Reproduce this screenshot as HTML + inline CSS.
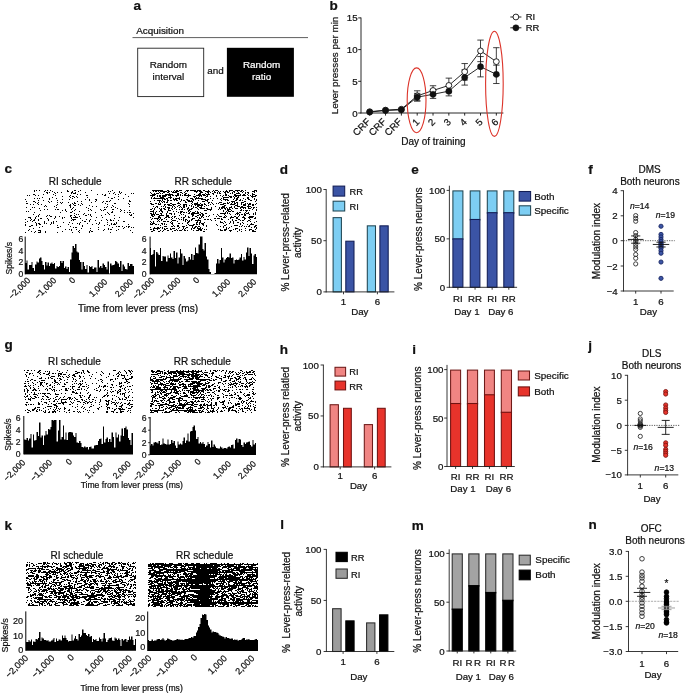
<!DOCTYPE html>
<html lang="en"><head><meta charset="utf-8"><title>Figure</title>
<style>html,body{margin:0;padding:0;background:#fff}svg{display:block;font-family:"Liberation Sans",sans-serif;will-change:transform}text{stroke:#111;stroke-width:.22px}text.w{stroke:#fff}</style></head><body>
<svg width="685" height="694" viewBox="0 0 685 694" fill="#111">
<rect width="685" height="694" fill="#fff"/>
<g id="panel-a">
<text x="133.4" y="10.2" font-size="13.5" font-weight="bold">a</text>
<text x="136.2" y="33.6" font-size="9.9">Acquisition</text>
<line x1="132.5" y1="37.6" x2="308" y2="37.6" stroke="#333" stroke-width="0.8"/>
<rect x="137.7" y="48.2" width="66" height="48.4" fill="#fff" stroke="#222" stroke-width="0.9"/>
<rect x="226.9" y="47.8" width="67" height="49" fill="#000"/>
<text x="168.4" y="67.8" font-size="9.9" text-anchor="middle">Random</text>
<text x="168.4" y="80.1" font-size="9.9" text-anchor="middle">interval</text>
<text x="215.4" y="74.4" font-size="9.9" text-anchor="middle">and</text>
<text x="261.6" y="67.8" font-size="9.9" text-anchor="middle" fill="#fff" class="w">Random</text>
<text x="261.6" y="80.1" font-size="9.9" text-anchor="middle" fill="#fff" class="w">ratio</text>
</g>
<g id="panel-b">
<text x="329.6" y="10.2" font-size="13.5" font-weight="bold">b</text>
<line x1="361" y1="17.5" x2="361" y2="113.4" stroke="#111" stroke-width="0.9"/>
<line x1="360.6" y1="113" x2="503.4" y2="113" stroke="#111" stroke-width="0.9"/>
<line x1="358.2" y1="113" x2="361" y2="113" stroke="#111" stroke-width="0.9"/>
<text x="357.6" y="116.5" font-size="9.7" text-anchor="end">0</text>
<line x1="358.2" y1="81.3" x2="361" y2="81.3" stroke="#111" stroke-width="0.9"/>
<text x="357.6" y="84.8" font-size="9.7" text-anchor="end">5</text>
<line x1="358.2" y1="49.6" x2="361" y2="49.6" stroke="#111" stroke-width="0.9"/>
<text x="357.6" y="53.1" font-size="9.7" text-anchor="end">10</text>
<line x1="358.2" y1="17.9" x2="361" y2="17.9" stroke="#111" stroke-width="0.9"/>
<text x="357.6" y="21.4" font-size="9.7" text-anchor="end">15</text>
<text x="338.2" y="65.5" font-size="9.9" text-anchor="middle" transform="rotate(-90 338.2 65.5)">Lever presses per min</text>
<line x1="369.7" y1="113" x2="369.7" y2="115.6" stroke="#111" stroke-width="0.9"/>
<text x="370.9" y="122.3" font-size="9.7" text-anchor="end" transform="rotate(-45 370.9 122.3)">CRF</text>
<line x1="385.53" y1="113" x2="385.53" y2="115.6" stroke="#111" stroke-width="0.9"/>
<text x="386.73" y="122.3" font-size="9.7" text-anchor="end" transform="rotate(-45 386.73 122.3)">CRF</text>
<line x1="401.36" y1="113" x2="401.36" y2="115.6" stroke="#111" stroke-width="0.9"/>
<text x="402.56" y="122.3" font-size="9.7" text-anchor="end" transform="rotate(-45 402.56 122.3)">CRF</text>
<line x1="417.19" y1="113" x2="417.19" y2="115.6" stroke="#111" stroke-width="0.9"/>
<text x="419.99" y="122.6" font-size="9.7" text-anchor="end" transform="rotate(-45 419.99 122.6)">1</text>
<line x1="433.02" y1="113" x2="433.02" y2="115.6" stroke="#111" stroke-width="0.9"/>
<text x="435.82" y="122.6" font-size="9.7" text-anchor="end" transform="rotate(-45 435.82 122.6)">2</text>
<line x1="448.85" y1="113" x2="448.85" y2="115.6" stroke="#111" stroke-width="0.9"/>
<text x="451.65" y="122.6" font-size="9.7" text-anchor="end" transform="rotate(-45 451.65 122.6)">3</text>
<line x1="464.68" y1="113" x2="464.68" y2="115.6" stroke="#111" stroke-width="0.9"/>
<text x="467.48" y="122.6" font-size="9.7" text-anchor="end" transform="rotate(-45 467.48 122.6)">4</text>
<line x1="480.51" y1="113" x2="480.51" y2="115.6" stroke="#111" stroke-width="0.9"/>
<text x="483.31" y="122.6" font-size="9.7" text-anchor="end" transform="rotate(-45 483.31 122.6)">5</text>
<line x1="496.34" y1="113" x2="496.34" y2="115.6" stroke="#111" stroke-width="0.9"/>
<text x="499.14" y="122.6" font-size="9.7" text-anchor="end" transform="rotate(-45 499.14 122.6)">6</text>
<text x="433.4" y="145.3" font-size="10" text-anchor="middle">Day of training</text>
<line x1="417.19" y1="90.81" x2="417.19" y2="100.95" stroke="#111" stroke-width="0.8"/>
<line x1="413.99" y1="90.81" x2="420.39" y2="90.81" stroke="#111" stroke-width="0.8"/>
<line x1="413.99" y1="100.95" x2="420.39" y2="100.95" stroke="#111" stroke-width="0.8"/>
<line x1="433.02" y1="85.74" x2="433.02" y2="95.25" stroke="#111" stroke-width="0.8"/>
<line x1="429.82" y1="85.74" x2="436.22" y2="85.74" stroke="#111" stroke-width="0.8"/>
<line x1="429.82" y1="95.25" x2="436.22" y2="95.25" stroke="#111" stroke-width="0.8"/>
<line x1="448.85" y1="78.13" x2="448.85" y2="92.71" stroke="#111" stroke-width="0.8"/>
<line x1="445.65" y1="78.13" x2="452.05" y2="78.13" stroke="#111" stroke-width="0.8"/>
<line x1="445.65" y1="92.71" x2="452.05" y2="92.71" stroke="#111" stroke-width="0.8"/>
<line x1="464.68" y1="63.55" x2="464.68" y2="80.03" stroke="#111" stroke-width="0.8"/>
<line x1="461.48" y1="63.55" x2="467.88" y2="63.55" stroke="#111" stroke-width="0.8"/>
<line x1="461.48" y1="80.03" x2="467.88" y2="80.03" stroke="#111" stroke-width="0.8"/>
<line x1="480.51" y1="40.09" x2="480.51" y2="61.65" stroke="#111" stroke-width="0.8"/>
<line x1="477.31" y1="40.09" x2="483.71" y2="40.09" stroke="#111" stroke-width="0.8"/>
<line x1="477.31" y1="61.65" x2="483.71" y2="61.65" stroke="#111" stroke-width="0.8"/>
<line x1="496.34" y1="47.7" x2="496.34" y2="75.59" stroke="#111" stroke-width="0.8"/>
<line x1="493.14" y1="47.7" x2="499.54" y2="47.7" stroke="#111" stroke-width="0.8"/>
<line x1="493.14" y1="75.59" x2="499.54" y2="75.59" stroke="#111" stroke-width="0.8"/>
<line x1="417.19" y1="93.35" x2="417.19" y2="100.95" stroke="#111" stroke-width="0.8"/>
<line x1="413.99" y1="93.35" x2="420.39" y2="93.35" stroke="#111" stroke-width="0.8"/>
<line x1="413.99" y1="100.95" x2="420.39" y2="100.95" stroke="#111" stroke-width="0.8"/>
<line x1="433.02" y1="90.18" x2="433.02" y2="98.42" stroke="#111" stroke-width="0.8"/>
<line x1="429.82" y1="90.18" x2="436.22" y2="90.18" stroke="#111" stroke-width="0.8"/>
<line x1="429.82" y1="98.42" x2="436.22" y2="98.42" stroke="#111" stroke-width="0.8"/>
<line x1="448.85" y1="86.37" x2="448.85" y2="95.88" stroke="#111" stroke-width="0.8"/>
<line x1="445.65" y1="86.37" x2="452.05" y2="86.37" stroke="#111" stroke-width="0.8"/>
<line x1="445.65" y1="95.88" x2="452.05" y2="95.88" stroke="#111" stroke-width="0.8"/>
<line x1="464.68" y1="69.89" x2="464.68" y2="85.1" stroke="#111" stroke-width="0.8"/>
<line x1="461.48" y1="69.89" x2="467.88" y2="69.89" stroke="#111" stroke-width="0.8"/>
<line x1="461.48" y1="85.1" x2="467.88" y2="85.1" stroke="#111" stroke-width="0.8"/>
<line x1="480.51" y1="56.57" x2="480.51" y2="76.86" stroke="#111" stroke-width="0.8"/>
<line x1="477.31" y1="56.57" x2="483.71" y2="56.57" stroke="#111" stroke-width="0.8"/>
<line x1="477.31" y1="76.86" x2="483.71" y2="76.86" stroke="#111" stroke-width="0.8"/>
<line x1="496.34" y1="65.13" x2="496.34" y2="83.52" stroke="#111" stroke-width="0.8"/>
<line x1="493.14" y1="65.13" x2="499.54" y2="65.13" stroke="#111" stroke-width="0.8"/>
<line x1="493.14" y1="83.52" x2="499.54" y2="83.52" stroke="#111" stroke-width="0.8"/>
<polyline fill="none" stroke="#111" stroke-width="0.9" points="369.7,111.73 385.53,110.15 401.36,109.2 417.19,95.88 433.02,90.49 448.85,85.42 464.68,71.79 480.51,50.87 496.34,61.65"/>
<polyline fill="none" stroke="#111" stroke-width="0.9" points="369.7,112.05 385.53,110.46 401.36,109.83 417.19,97.15 433.02,94.3 448.85,91.13 464.68,77.5 480.51,66.72 496.34,74.33"/>
<circle cx="369.7" cy="111.73" r="2.9" fill="#fff" stroke="#111" stroke-width="0.9"/>
<circle cx="385.53" cy="110.15" r="2.9" fill="#fff" stroke="#111" stroke-width="0.9"/>
<circle cx="401.36" cy="109.2" r="2.9" fill="#fff" stroke="#111" stroke-width="0.9"/>
<circle cx="417.19" cy="95.88" r="2.9" fill="#fff" stroke="#111" stroke-width="0.9"/>
<circle cx="433.02" cy="90.49" r="2.9" fill="#fff" stroke="#111" stroke-width="0.9"/>
<circle cx="448.85" cy="85.42" r="2.9" fill="#fff" stroke="#111" stroke-width="0.9"/>
<circle cx="464.68" cy="71.79" r="2.9" fill="#fff" stroke="#111" stroke-width="0.9"/>
<circle cx="480.51" cy="50.87" r="2.9" fill="#fff" stroke="#111" stroke-width="0.9"/>
<circle cx="496.34" cy="61.65" r="2.9" fill="#fff" stroke="#111" stroke-width="0.9"/>
<circle cx="369.7" cy="112.05" r="3.1" fill="#111" stroke="#111" stroke-width="0.4"/>
<circle cx="385.53" cy="110.46" r="3.1" fill="#111" stroke="#111" stroke-width="0.4"/>
<circle cx="401.36" cy="109.83" r="3.1" fill="#111" stroke="#111" stroke-width="0.4"/>
<circle cx="417.19" cy="97.15" r="3.1" fill="#111" stroke="#111" stroke-width="0.4"/>
<circle cx="433.02" cy="94.3" r="3.1" fill="#111" stroke="#111" stroke-width="0.4"/>
<circle cx="448.85" cy="91.13" r="3.1" fill="#111" stroke="#111" stroke-width="0.4"/>
<circle cx="464.68" cy="77.5" r="3.1" fill="#111" stroke="#111" stroke-width="0.4"/>
<circle cx="480.51" cy="66.72" r="3.1" fill="#111" stroke="#111" stroke-width="0.4"/>
<circle cx="496.34" cy="74.33" r="3.1" fill="#111" stroke="#111" stroke-width="0.4"/>
<line x1="510.3" y1="17" x2="521.4" y2="17" stroke="#111" stroke-width="0.9"/>
<circle cx="515.9" cy="17" r="2.9" fill="#fff" stroke="#111" stroke-width="0.9"/>
<text x="525.7" y="20.3" font-size="9.5">RI</text>
<line x1="510.3" y1="27.8" x2="521.4" y2="27.8" stroke="#111" stroke-width="0.9"/>
<circle cx="515.9" cy="27.8" r="3.1" fill="#111" stroke="#111" stroke-width="0.4"/>
<text x="525.7" y="31.1" font-size="9.5">RR</text>
<ellipse cx="416.6" cy="100.3" rx="9.4" ry="32.4" fill="none" stroke="#dc3329" stroke-width="1.1"/>
<ellipse cx="494.4" cy="83.8" rx="8.8" ry="52.6" fill="none" stroke="#dc3329" stroke-width="1.1"/>
</g>
<g id="panel-c">
<text x="4.6" y="173.2" font-size="13.5" font-weight="bold">c</text>
<text x="75.2" y="184.7" font-size="10" text-anchor="middle">RI schedule</text>
<path d="M34 190.5h1M36 190.5h1M39 190.5h1M45 190.5h1M47 190.5h1M50 190.5h1M67 190.5h1M74 190.5h2M80 190.5h1M91 190.5h1M112 190.5h1M34 191.5h1M44 191.5h1M52 191.5h1M67 191.5h2M72 191.5h1M78 191.5h1M108 191.5h1M110 191.5h1M119 191.5h1M46 192.5h2M49 192.5h1M54 192.5h1M57 192.5h1M61 192.5h1M71 192.5h2M75 192.5h1M85 192.5h1M114 192.5h1M119 192.5h1M121 192.5h1M47 193.5h1M55 193.5h1M71 193.5h1M73 193.5h3M109 193.5h1M113 193.5h1M120 193.5h1M131 193.5h1M133 193.5h1M33 194.5h2M43 194.5h1M53 194.5h1M77 194.5h1M80 194.5h1M97 194.5h1M102 194.5h1M105 194.5h1M115 194.5h1M118 194.5h1M125 194.5h1M27 195.5h1M29 195.5h1M35 195.5h1M38 195.5h1M55 195.5h1M70 195.5h1M86 195.5h2M104 195.5h2M62 196.5h1M69 196.5h1M72 196.5h2M76 196.5h1M118 196.5h1M128 196.5h1M42 197.5h1M52 197.5h1M70 197.5h1M74 197.5h1M77 197.5h1M87 197.5h1M108 197.5h1M114 197.5h1M34 198.5h1M37 198.5h1M39 198.5h1M49 198.5h1M56 198.5h1M72 198.5h1M111 198.5h2M123 198.5h1M25 199.5h1M49 199.5h1M62 199.5h1M69 199.5h1M85 199.5h1M89 199.5h1M95 199.5h2M118 199.5h1M38 200.5h1M43 200.5h1M57 200.5h1M89 200.5h1M96 200.5h1M110 200.5h1M129 200.5h1M26 201.5h1M33 201.5h2M48 201.5h1M51 201.5h1M77 201.5h1M81 201.5h1M95 201.5h1M103 201.5h1M106 201.5h2M109 201.5h1M129 201.5h2M35 202.5h1M38 202.5h1M49 202.5h1M57 202.5h1M60 202.5h1M62 202.5h1M68 202.5h1M74 202.5h1M91 202.5h1M102 202.5h1M26 203.5h2M37 203.5h1M61 203.5h1M72 203.5h1M74 203.5h2M81 203.5h1M105 203.5h1M114 203.5h2M128 203.5h1M30 204.5h1M33 204.5h1M38 204.5h1M41 204.5h1M57 204.5h1M70 204.5h1M73 204.5h1M78 204.5h1M82 204.5h1M107 204.5h1M129 204.5h1M45 205.5h1M56 205.5h1M69 205.5h2M74 205.5h2M80 205.5h1M89 205.5h1M112 205.5h1M44 206.5h1M46 206.5h1M54 206.5h1M70 206.5h1M92 206.5h1M96 206.5h1M107 206.5h1M113 206.5h1M129 206.5h1M26 207.5h1M32 207.5h1M34 207.5h1M56 207.5h1M70 207.5h1M73 207.5h1M86 207.5h1M104 207.5h1M106 207.5h1M111 207.5h1M115 207.5h1M39 208.5h1M72 208.5h1M88 208.5h1M117 208.5h1M30 209.5h1M44 209.5h1M47 209.5h1M55 209.5h1M57 209.5h2M65 209.5h1M71 209.5h1M75 209.5h1M90 209.5h1M100 209.5h1M104 209.5h2M112 209.5h2M120 209.5h1M40 210.5h1M62 210.5h1M65 210.5h1M74 210.5h1M88 210.5h1M91 210.5h1M101 210.5h1M103 210.5h1M121 210.5h1M124 210.5h1M129 210.5h1M26 211.5h1M28 211.5h1M66 211.5h1M72 211.5h1M79 211.5h1M112 211.5h1M120 211.5h1M34 212.5h1M60 212.5h1M70 212.5h2M95 212.5h1M107 212.5h1M111 212.5h2M124 212.5h1M127 212.5h1M129 212.5h2M74 213.5h1M84 213.5h1M108 213.5h1M133 213.5h1M33 214.5h1M39 214.5h1M76 214.5h1M78 214.5h1M83 214.5h1M88 214.5h1M90 214.5h1M105 214.5h1M109 214.5h1M129 214.5h1M131 214.5h1M38 215.5h1M47 215.5h1M49 215.5h1M70 215.5h2M74 215.5h1M85 215.5h2M90 215.5h1M101 215.5h1M114 215.5h1M130 215.5h2M36 216.5h1M38 216.5h1M46 216.5h1M50 216.5h2M55 216.5h1M59 216.5h1M70 216.5h1M75 216.5h1M79 216.5h1M91 216.5h1M28 217.5h3M35 217.5h1M55 217.5h1M62 217.5h1M64 217.5h1M71 217.5h1M73 217.5h5M96 217.5h1M102 217.5h1M119 217.5h1M133 217.5h1M30 218.5h1M35 218.5h1M40 218.5h2M47 218.5h1M54 218.5h1M62 218.5h1M71 218.5h1M80 218.5h1M114 218.5h1M25 219.5h1M31 219.5h1M34 219.5h1M38 219.5h1M48 219.5h1M72 219.5h4M86 219.5h1M90 219.5h1M106 219.5h1M110 219.5h1M30 220.5h1M33 220.5h2M38 220.5h1M48 220.5h1M71 220.5h1M73 220.5h1M82 220.5h1M89 220.5h1M95 220.5h1M101 220.5h1M107 220.5h1M110 220.5h2M113 220.5h1M118 220.5h1M27 221.5h1M32 221.5h1M44 221.5h1M53 221.5h1M56 221.5h1M84 221.5h2M89 221.5h1M123 221.5h2M25 222.5h1M35 222.5h1M44 222.5h1M51 222.5h1M53 222.5h1M63 222.5h1M69 222.5h1M80 222.5h1M99 222.5h1M107 222.5h1M116 222.5h1M36 223.5h1M38 223.5h2M44 223.5h1M46 223.5h1M51 223.5h1M53 223.5h1M72 223.5h1M77 223.5h1M79 223.5h1M87 223.5h1M96 223.5h1M99 223.5h1M111 223.5h1M114 223.5h1M116 223.5h1M25 224.5h1M36 224.5h1M39 224.5h2M50 224.5h1M68 224.5h1M79 224.5h1M92 224.5h1M98 224.5h1M107 224.5h1M111 224.5h1M113 224.5h3M128 224.5h1M25 225.5h1M31 225.5h2M36 225.5h1M57 225.5h1M82 225.5h1M104 225.5h1M109 225.5h1M29 226.5h2M42 226.5h1M60 226.5h1M70 226.5h1M82 226.5h1M116 226.5h1M118 226.5h2M122 226.5h1M126 226.5h1M128 226.5h2M39 227.5h1M57 227.5h2M73 227.5h1M75 227.5h2M98 227.5h1M112 227.5h1M124 227.5h1M128 227.5h1M131 227.5h1M133 227.5h1M33 228.5h1M81 228.5h1M90 228.5h1M108 228.5h1M123 228.5h1M29 229.5h1M65 229.5h1M69 229.5h1M71 229.5h1M76 229.5h1M98 229.5h1M104 229.5h1M108 229.5h1M110 229.5h2M118 229.5h1M28 230.5h1M38 230.5h3M71 230.5h1M79 230.5h1M90 230.5h1M103 230.5h1M116 230.5h1M130 230.5h1M31 231.5h1M35 231.5h1M40 231.5h1M45 231.5h1M62 231.5h1M78 231.5h1M89 231.5h1M91 231.5h2M25 232.5h1M34 232.5h1M38 232.5h3M45 232.5h1M57 232.5h1M72 232.5h1M79 232.5h1M89 232.5h1M110 232.5h1M132 232.5h1" stroke="#000" stroke-width="1" fill="none"/>
<path d="M25 274.3 V263 H26.5 V260.5 H27.5 V269.5 H29 V265 H30 V265 H31.5 V262 H32.5 V268 H34 V271 H35 V264.5 H36.5 V261.5 H37.5 V262.5 H39 V258.5 H40 V257.5 H41.5 V261 H42.5 V265 H44 V269.5 H45 V262 H46.5 V265.5 H47.5 V262.5 H49 V266 H50 V263.5 H51.5 V262.5 H52.5 V264 H54 V263 H55 V268.5 H56.5 V266 H57.5 V267 H59 V266 H60 V261 H61.5 V263 H62.5 V261 H64 V268 H65 V266.5 H66.5 V269 H67.5 V267 H69 V272 H70 V259.5 H71.5 V252.5 H72.5 V246 H74 V248 H75 V244 H76.5 V251.5 H77.5 V252.5 H79 V260 H80 V262 H81.5 V269.5 H82.5 V262 H84 V266 H85 V269 H86.5 V265 H87.5 V272.5 H89 V266 H90 V267 H91.5 V266 H92.5 V269 H94 V267.5 H95 V267.5 H96.5 V272 H97.5 V260 H99 V267.5 H100 V266 H101.5 V268 H102.5 V263.5 H104 V265 H105 V267 H106.5 V269.5 H107.5 V261.5 H109 V273.5 H110 V263.5 H111.5 V265.5 H112.5 V265 H114 V264.5 H115 V261 H116.5 V262 H117.5 V263.5 H119 V267 H120 V261 H121.5 V271 H122.5 V264.5 H124 V266.5 H125 V269 H126.5 V269.5 H127.5 V263 H129 V266 H130 V264 H131.5 V264 H132.5 V266 H134 V274.3Z" fill="#000"/>
<line x1="25.2" y1="236.6" x2="25.2" y2="274.3" stroke="#000" stroke-width="1"/>
<text x="23.4" y="241.9" font-size="8.6" text-anchor="end">6</text>
<text x="23.4" y="253.7" font-size="8.6" text-anchor="end">4</text>
<text x="23.4" y="265.4" font-size="8.6" text-anchor="end">2</text>
<text x="23.4" y="277" font-size="8.6" text-anchor="end">0</text>
<text x="11.6" y="258.3" font-size="8.6" text-anchor="middle" transform="rotate(-90 11.6 258.3)">Spikes/s</text>
<text x="30.8" y="280.9" font-size="8.6" text-anchor="end" transform="rotate(-45 30.8 280.9)">−2,000</text>
<text x="56.8" y="280.9" font-size="8.6" text-anchor="end" transform="rotate(-45 56.8 280.9)">−1,000</text>
<text x="107.8" y="282.3" font-size="8.6" text-anchor="end" transform="rotate(-45 107.8 282.3)">1,000</text>
<text x="133.6" y="282.3" font-size="8.6" text-anchor="end" transform="rotate(-45 133.6 282.3)">2,000</text>
<text x="76" y="280.6" font-size="8.6" text-anchor="end" transform="rotate(-45 76 280.6)">0</text>
<text x="203.1" y="184.7" font-size="10" text-anchor="middle">RR schedule</text>
<path d="M152 190.5h11M167 190.5h2M174 190.5h1M176 190.5h2M179 190.5h3M186 190.5h3M190 190.5h6M197 190.5h4M203 190.5h2M208 190.5h1M213 190.5h1M215 190.5h3M226 190.5h1M229 190.5h4M235 190.5h5M241 190.5h2M245 190.5h1M254 190.5h3M153 191.5h1M155 191.5h2M158 191.5h1M160 191.5h7M168 191.5h2M171 191.5h1M173 191.5h1M175 191.5h4M185 191.5h1M187 191.5h1M194 191.5h4M199 191.5h3M205 191.5h5M212 191.5h1M214 191.5h1M218 191.5h1M220 191.5h1M223 191.5h1M225 191.5h3M229 191.5h1M233 191.5h2M237 191.5h1M240 191.5h2M243 191.5h1M252 191.5h3M256 191.5h1M150 192.5h1M159 192.5h1M163 192.5h2M167 192.5h2M172 192.5h5M180 192.5h2M184 192.5h1M196 192.5h1M200 192.5h3M207 192.5h2M210 192.5h1M214 192.5h2M217 192.5h1M219 192.5h1M224 192.5h2M227 192.5h2M232 192.5h1M234 192.5h1M238 192.5h1M242 192.5h1M245 192.5h1M247 192.5h2M254 192.5h1M151 193.5h1M154 193.5h1M156 193.5h3M160 193.5h1M162 193.5h1M169 193.5h1M177 193.5h2M182 193.5h1M185 193.5h2M199 193.5h2M205 193.5h1M208 193.5h1M212 193.5h2M217 193.5h1M219 193.5h2M225 193.5h1M230 193.5h1M232 193.5h1M236 193.5h4M245 193.5h1M248 193.5h1M252 193.5h1M152 194.5h4M165 194.5h8M177 194.5h2M180 194.5h1M184 194.5h2M188 194.5h1M194 194.5h1M198 194.5h3M202 194.5h3M206 194.5h4M213 194.5h1M225 194.5h2M234 194.5h2M240 194.5h1M243 194.5h2M247 194.5h1M252 194.5h3M150 195.5h5M157 195.5h1M159 195.5h2M162 195.5h5M168 195.5h3M172 195.5h2M175 195.5h4M180 195.5h1M182 195.5h1M184 195.5h7M196 195.5h6M203 195.5h3M207 195.5h1M216 195.5h1M220 195.5h1M223 195.5h1M225 195.5h2M228 195.5h1M234 195.5h7M242 195.5h4M248 195.5h1M250 195.5h1M252 195.5h1M255 195.5h2M152 196.5h1M157 196.5h1M159 196.5h2M162 196.5h4M170 196.5h1M176 196.5h1M188 196.5h1M193 196.5h3M199 196.5h1M201 196.5h1M206 196.5h2M210 196.5h1M216 196.5h1M222 196.5h1M229 196.5h3M233 196.5h1M235 196.5h2M238 196.5h1M251 196.5h5M151 197.5h1M154 197.5h1M160 197.5h4M168 197.5h4M179 197.5h1M187 197.5h1M194 197.5h1M196 197.5h1M198 197.5h1M205 197.5h1M223 197.5h6M230 197.5h2M234 197.5h1M237 197.5h2M247 197.5h2M252 197.5h1M151 198.5h1M153 198.5h12M166 198.5h2M170 198.5h1M173 198.5h1M175 198.5h5M190 198.5h3M195 198.5h8M210 198.5h1M213 198.5h1M217 198.5h1M221 198.5h1M223 198.5h1M234 198.5h1M236 198.5h2M243 198.5h1M247 198.5h2M254 198.5h1M162 199.5h1M164 199.5h2M167 199.5h1M173 199.5h4M179 199.5h1M181 199.5h1M186 199.5h2M192 199.5h2M195 199.5h1M201 199.5h5M207 199.5h2M220 199.5h1M223 199.5h5M233 199.5h1M236 199.5h2M240 199.5h1M245 199.5h1M248 199.5h2M254 199.5h1M256 199.5h1M154 200.5h1M157 200.5h4M162 200.5h1M167 200.5h2M170 200.5h2M174 200.5h1M176 200.5h2M181 200.5h1M183 200.5h2M187 200.5h3M191 200.5h1M193 200.5h1M198 200.5h1M205 200.5h3M212 200.5h1M221 200.5h1M225 200.5h1M227 200.5h2M235 200.5h2M239 200.5h2M242 200.5h1M250 200.5h2M256 200.5h1M150 201.5h1M159 201.5h1M161 201.5h1M163 201.5h2M167 201.5h1M180 201.5h1M185 201.5h1M188 201.5h5M202 201.5h3M207 201.5h1M231 201.5h4M244 201.5h2M255 201.5h1M159 202.5h1M162 202.5h1M164 202.5h1M166 202.5h2M178 202.5h1M185 202.5h2M192 202.5h1M197 202.5h1M208 202.5h2M211 202.5h1M219 202.5h3M227 202.5h1M229 202.5h1M232 202.5h1M234 202.5h1M236 202.5h2M241 202.5h3M150 203.5h2M155 203.5h2M158 203.5h1M160 203.5h1M170 203.5h2M177 203.5h3M191 203.5h1M194 203.5h4M200 203.5h1M204 203.5h1M208 203.5h1M212 203.5h1M216 203.5h1M218 203.5h1M223 203.5h3M227 203.5h2M231 203.5h1M234 203.5h2M237 203.5h1M241 203.5h1M245 203.5h1M247 203.5h1M249 203.5h2M256 203.5h1M151 204.5h3M158 204.5h3M164 204.5h2M167 204.5h3M172 204.5h4M180 204.5h1M183 204.5h4M192 204.5h1M194 204.5h6M201 204.5h2M204 204.5h2M210 204.5h1M213 204.5h1M220 204.5h4M230 204.5h5M237 204.5h1M241 204.5h1M243 204.5h3M248 204.5h3M252 204.5h2M255 204.5h1M164 205.5h1M168 205.5h4M173 205.5h1M178 205.5h2M183 205.5h2M186 205.5h1M189 205.5h1M191 205.5h1M195 205.5h1M197 205.5h6M206 205.5h1M208 205.5h1M224 205.5h2M235 205.5h3M243 205.5h3M248 205.5h1M252 205.5h2M153 206.5h1M156 206.5h2M161 206.5h1M163 206.5h1M165 206.5h1M172 206.5h1M174 206.5h1M177 206.5h1M180 206.5h1M183 206.5h2M186 206.5h1M191 206.5h1M193 206.5h1M197 206.5h2M201 206.5h1M204 206.5h1M215 206.5h1M222 206.5h3M231 206.5h1M234 206.5h1M237 206.5h3M241 206.5h2M247 206.5h4M155 207.5h1M157 207.5h1M165 207.5h1M167 207.5h3M172 207.5h1M175 207.5h1M179 207.5h1M181 207.5h1M183 207.5h2M188 207.5h1M193 207.5h1M195 207.5h2M199 207.5h3M211 207.5h1M219 207.5h1M221 207.5h4M226 207.5h1M229 207.5h3M234 207.5h1M240 207.5h6M248 207.5h1M251 207.5h1M253 207.5h2M256 207.5h1M152 208.5h1M154 208.5h1M159 208.5h1M161 208.5h1M163 208.5h2M168 208.5h2M171 208.5h1M174 208.5h1M182 208.5h1M187 208.5h2M191 208.5h2M197 208.5h1M200 208.5h5M206 208.5h2M211 208.5h1M219 208.5h1M221 208.5h2M224 208.5h2M227 208.5h1M229 208.5h1M232 208.5h1M235 208.5h3M240 208.5h1M243 208.5h1M245 208.5h1M248 208.5h3M253 208.5h1M150 209.5h2M154 209.5h1M160 209.5h2M164 209.5h2M168 209.5h1M172 209.5h1M176 209.5h1M179 209.5h1M181 209.5h2M184 209.5h1M187 209.5h1M189 209.5h3M198 209.5h1M207 209.5h5M218 209.5h1M220 209.5h1M225 209.5h1M227 209.5h4M241 209.5h1M252 209.5h1M256 209.5h1M153 210.5h1M160 210.5h2M168 210.5h3M188 210.5h2M204 210.5h3M210 210.5h1M223 210.5h1M227 210.5h2M231 210.5h1M240 210.5h2M243 210.5h1M245 210.5h3M249 210.5h1M256 210.5h1M150 211.5h4M156 211.5h1M159 211.5h1M161 211.5h2M167 211.5h1M173 211.5h1M176 211.5h1M180 211.5h3M188 211.5h1M190 211.5h1M195 211.5h1M197 211.5h1M223 211.5h1M226 211.5h1M228 211.5h3M232 211.5h2M246 211.5h1M153 212.5h1M155 212.5h1M162 212.5h1M167 212.5h1M178 212.5h1M180 212.5h2M183 212.5h2M186 212.5h1M189 212.5h1M192 212.5h3M197 212.5h2M200 212.5h1M225 212.5h1M227 212.5h1M237 212.5h1M239 212.5h2M245 212.5h1M248 212.5h1M255 212.5h1M150 213.5h2M153 213.5h1M155 213.5h1M160 213.5h2M166 213.5h1M169 213.5h3M174 213.5h1M180 213.5h1M188 213.5h2M191 213.5h8M201 213.5h2M205 213.5h2M220 213.5h6M227 213.5h1M229 213.5h1M236 213.5h3M244 213.5h1M246 213.5h3M253 213.5h1M255 213.5h1M151 214.5h4M156 214.5h3M161 214.5h1M166 214.5h1M171 214.5h1M174 214.5h1M181 214.5h1M183 214.5h1M191 214.5h3M199 214.5h2M202 214.5h2M213 214.5h1M217 214.5h1M224 214.5h1M230 214.5h1M235 214.5h1M237 214.5h1M239 214.5h1M241 214.5h2M244 214.5h2M249 214.5h1M253 214.5h1M255 214.5h1M151 215.5h2M154 215.5h1M159 215.5h5M166 215.5h3M179 215.5h1M185 215.5h1M192 215.5h2M197 215.5h2M200 215.5h1M202 215.5h2M209 215.5h1M218 215.5h1M225 215.5h1M239 215.5h1M244 215.5h2M152 216.5h2M158 216.5h2M166 216.5h3M172 216.5h1M174 216.5h2M185 216.5h1M188 216.5h1M192 216.5h1M195 216.5h2M201 216.5h2M206 216.5h1M208 216.5h1M216 216.5h1M219 216.5h3M224 216.5h1M226 216.5h1M231 216.5h1M234 216.5h2M238 216.5h1M243 216.5h1M249 216.5h5M150 217.5h1M158 217.5h3M165 217.5h2M168 217.5h2M171 217.5h1M174 217.5h1M181 217.5h1M183 217.5h2M188 217.5h2M197 217.5h1M199 217.5h1M201 217.5h1M203 217.5h1M223 217.5h3M230 217.5h4M236 217.5h2M242 217.5h3M248 217.5h5M255 217.5h1M152 218.5h1M154 218.5h5M160 218.5h1M164 218.5h1M172 218.5h1M176 218.5h1M178 218.5h1M183 218.5h1M192 218.5h3M199 218.5h2M214 218.5h2M217 218.5h3M221 218.5h1M230 218.5h1M236 218.5h2M244 218.5h2M249 218.5h1M254 218.5h2M151 219.5h1M157 219.5h1M159 219.5h1M161 219.5h2M166 219.5h1M171 219.5h1M179 219.5h1M181 219.5h1M183 219.5h1M185 219.5h2M191 219.5h2M198 219.5h1M204 219.5h2M207 219.5h2M210 219.5h1M221 219.5h2M228 219.5h1M232 219.5h1M238 219.5h2M244 219.5h1M250 219.5h1M158 220.5h1M161 220.5h1M172 220.5h4M183 220.5h1M185 220.5h1M187 220.5h1M189 220.5h1M191 220.5h1M195 220.5h6M211 220.5h1M215 220.5h1M232 220.5h1M235 220.5h2M240 220.5h1M242 220.5h2M248 220.5h2M150 221.5h1M153 221.5h1M157 221.5h1M159 221.5h1M163 221.5h3M167 221.5h2M171 221.5h1M177 221.5h1M185 221.5h1M188 221.5h2M197 221.5h1M200 221.5h1M220 221.5h1M224 221.5h1M230 221.5h1M233 221.5h1M247 221.5h1M250 221.5h1M256 221.5h1M151 222.5h1M153 222.5h1M170 222.5h1M172 222.5h1M187 222.5h2M196 222.5h2M199 222.5h2M204 222.5h1M220 222.5h3M225 222.5h1M230 222.5h1M233 222.5h1M237 222.5h2M242 222.5h1M254 222.5h1M150 223.5h1M152 223.5h3M161 223.5h2M164 223.5h1M171 223.5h2M178 223.5h2M182 223.5h1M187 223.5h1M196 223.5h1M199 223.5h1M201 223.5h3M223 223.5h1M229 223.5h1M233 223.5h1M240 223.5h1M243 223.5h1M251 223.5h1M150 224.5h3M155 224.5h2M158 224.5h1M162 224.5h1M164 224.5h1M166 224.5h1M172 224.5h1M188 224.5h1M193 224.5h2M196 224.5h2M199 224.5h1M202 224.5h2M216 224.5h1M226 224.5h1M240 224.5h1M247 224.5h1M250 224.5h4M160 225.5h1M173 225.5h1M177 225.5h2M186 225.5h1M189 225.5h5M203 225.5h1M206 225.5h1M217 225.5h1M224 225.5h2M234 225.5h4M242 225.5h1M249 225.5h1M255 225.5h2M164 226.5h3M171 226.5h2M174 226.5h1M177 226.5h2M182 226.5h3M192 226.5h1M195 226.5h2M198 226.5h2M206 226.5h1M220 226.5h1M223 226.5h1M231 226.5h1M239 226.5h1M241 226.5h1M244 226.5h1M246 226.5h1M248 226.5h2M254 226.5h2M150 227.5h1M154 227.5h1M157 227.5h2M160 227.5h1M162 227.5h1M179 227.5h1M183 227.5h1M186 227.5h2M192 227.5h1M194 227.5h2M197 227.5h1M200 227.5h1M223 227.5h1M226 227.5h1M229 227.5h1M251 227.5h1M254 227.5h1M256 227.5h1M153 228.5h7M162 228.5h1M164 228.5h1M166 228.5h2M170 228.5h1M172 228.5h3M178 228.5h1M183 228.5h1M185 228.5h1M191 228.5h1M193 228.5h2M197 228.5h4M202 228.5h1M226 228.5h1M228 228.5h1M235 228.5h3M245 228.5h1M256 228.5h1M150 229.5h2M153 229.5h1M157 229.5h1M164 229.5h2M170 229.5h2M176 229.5h1M182 229.5h1M184 229.5h1M191 229.5h1M198 229.5h4M204 229.5h1M206 229.5h1M218 229.5h1M220 229.5h1M224 229.5h3M233 229.5h1M235 229.5h1M239 229.5h1M241 229.5h1M249 229.5h3M255 229.5h1M153 230.5h2M160 230.5h1M163 230.5h1M167 230.5h2M174 230.5h2M177 230.5h1M179 230.5h3M184 230.5h2M187 230.5h1M193 230.5h1M196 230.5h3M200 230.5h2M220 230.5h3M224 230.5h2M229 230.5h3M239 230.5h1M245 230.5h1M249 230.5h1M252 230.5h2M151 231.5h2M158 231.5h2M162 231.5h1M172 231.5h1M203 231.5h2M230 231.5h1M237 231.5h1M241 231.5h1M252 231.5h4" stroke="#000" stroke-width="1" fill="none"/>
<path d="M150 274.3 V248 H151 V255 H152.5 V254 H153.5 V250 H155 V266.5 H156 V252 H157.5 V253.5 H158.5 V255 H160 V248 H161 V261 H162.5 V256 H163.5 V256.5 H165 V256.5 H166 V261.5 H167.5 V255.5 H168.5 V258 H170 V253.5 H171 V257.5 H172.5 V259 H173.5 V251 H175 V258 H176 V252.5 H177.5 V263.5 H178.5 V257.5 H180 V249 H181 V253.5 H182.5 V265 H183.5 V256 H185 V258.5 H186 V261.5 H187.5 V260.5 H188.5 V257 H190 V259.5 H191 V254 H192.5 V260 H193.5 V255 H195 V247.5 H196 V253 H197.5 V253.5 H198.5 V244.5 H200 V236.5 H201 V236.5 H202.5 V249 H203.5 V250.5 H204.5 V243 H206 V256.5 H207 V259.5 H208.5 V269 H209.5 V272 H211 V274 H212 V274.5 H213.5 V274 H214.5 V273 H216 V263.5 H217 V259 H218.5 V263.5 H219.5 V260 H221 V248 H222 V257.5 H223.5 V262.5 H224.5 V259.5 H226 V258 H227 V257 H228.5 V257.5 H229.5 V253.5 H231 V258 H232 V257.5 H233.5 V263.5 H234.5 V260 H236 V259.5 H237 V260 H238.5 V259.5 H239.5 V257.5 H241 V254 H242 V260.5 H243.5 V257 H244.5 V259.5 H246 V252.5 H247 V247.5 H248.5 V256 H249.5 V248 H251 V253.5 H252 V264 H253.5 V255.5 H254.5 V254 H256 V257 H257 V274.3Z" fill="#000"/>
<line x1="150.1" y1="236.6" x2="150.1" y2="274.3" stroke="#000" stroke-width="1"/>
<text x="146.6" y="241.9" font-size="8.6" text-anchor="end">6</text>
<text x="146.6" y="253.7" font-size="8.6" text-anchor="end">4</text>
<text x="146.6" y="265.4" font-size="8.6" text-anchor="end">2</text>
<text x="146.6" y="277" font-size="8.6" text-anchor="end">0</text>
<text x="154.8" y="280.9" font-size="8.6" text-anchor="end" transform="rotate(-45 154.8 280.9)">−2,000</text>
<text x="181.1" y="280.9" font-size="8.6" text-anchor="end" transform="rotate(-45 181.1 280.9)">−1,000</text>
<text x="230.8" y="282.3" font-size="8.6" text-anchor="end" transform="rotate(-45 230.8 282.3)">1,000</text>
<text x="257" y="282.3" font-size="8.6" text-anchor="end" transform="rotate(-45 257 282.3)">2,000</text>
<text x="200" y="280.6" font-size="8.6" text-anchor="end" transform="rotate(-45 200 280.6)">0</text>
<text x="138" y="312.4" font-size="10.1" text-anchor="middle">Time from lever press (ms)</text>
</g>
<g id="panel-g">
<text x="4.6" y="349.3" font-size="13.5" font-weight="bold">g</text>
<text x="74.5" y="364.6" font-size="10" text-anchor="middle">RI schedule</text>
<path d="M24 370.5h1M27 370.5h2M31 370.5h1M34 370.5h1M39 370.5h2M57 370.5h1M67 370.5h1M82 370.5h2M87 370.5h1M113 370.5h3M124 370.5h1M128 370.5h2M131 370.5h1M38 371.5h2M45 371.5h1M47 371.5h1M49 371.5h1M59 371.5h1M75 371.5h2M83 371.5h1M87 371.5h2M101 371.5h1M119 371.5h1M125 371.5h1M129 371.5h2M132 371.5h1M26 372.5h2M37 372.5h2M40 372.5h1M49 372.5h1M62 372.5h1M66 372.5h1M77 372.5h3M81 372.5h1M83 372.5h1M88 372.5h2M96 372.5h1M102 372.5h1M118 372.5h1M120 372.5h1M126 372.5h1M130 372.5h1M29 373.5h2M32 373.5h1M39 373.5h1M43 373.5h2M48 373.5h2M52 373.5h2M55 373.5h1M58 373.5h4M75 373.5h3M81 373.5h1M84 373.5h1M103 373.5h1M109 373.5h1M117 373.5h2M126 373.5h1M131 373.5h1M25 374.5h1M29 374.5h1M40 374.5h1M46 374.5h3M58 374.5h1M60 374.5h2M63 374.5h3M69 374.5h1M73 374.5h2M92 374.5h1M100 374.5h1M109 374.5h1M116 374.5h1M119 374.5h1M121 374.5h1M130 374.5h1M26 375.5h1M33 375.5h1M49 375.5h1M58 375.5h2M68 375.5h1M72 375.5h3M79 375.5h1M89 375.5h1M101 375.5h1M113 375.5h1M118 375.5h1M121 375.5h4M127 375.5h1M26 376.5h1M37 376.5h1M51 376.5h4M58 376.5h1M60 376.5h1M62 376.5h1M66 376.5h1M69 376.5h1M74 376.5h2M79 376.5h2M83 376.5h1M91 376.5h1M108 376.5h1M117 376.5h2M124 376.5h1M131 376.5h2M28 377.5h1M41 377.5h1M48 377.5h1M50 377.5h1M63 377.5h1M67 377.5h2M72 377.5h1M80 377.5h1M106 377.5h1M124 377.5h1M131 377.5h2M39 378.5h3M45 378.5h1M48 378.5h1M51 378.5h2M57 378.5h1M59 378.5h2M73 378.5h1M79 378.5h1M84 378.5h1M90 378.5h1M95 378.5h1M115 378.5h1M117 378.5h1M122 378.5h2M125 378.5h1M129 378.5h3M27 379.5h1M31 379.5h2M54 379.5h1M60 379.5h2M67 379.5h1M73 379.5h1M75 379.5h1M100 379.5h2M110 379.5h3M115 379.5h1M125 379.5h4M30 380.5h1M34 380.5h2M41 380.5h4M54 380.5h2M59 380.5h1M64 380.5h1M76 380.5h1M82 380.5h1M98 380.5h1M102 380.5h1M110 380.5h1M126 380.5h1M25 381.5h1M27 381.5h2M39 381.5h1M54 381.5h2M72 381.5h1M75 381.5h1M80 381.5h1M82 381.5h1M101 381.5h1M113 381.5h1M126 381.5h2M32 382.5h1M37 382.5h1M40 382.5h3M44 382.5h1M52 382.5h1M55 382.5h3M60 382.5h1M66 382.5h2M85 382.5h1M102 382.5h1M119 382.5h1M121 382.5h1M124 382.5h2M128 382.5h2M24 383.5h2M28 383.5h1M33 383.5h1M40 383.5h2M46 383.5h2M54 383.5h1M58 383.5h1M64 383.5h1M74 383.5h1M76 383.5h1M79 383.5h2M82 383.5h1M92 383.5h1M96 383.5h1M107 383.5h1M119 383.5h3M127 383.5h1M35 384.5h1M40 384.5h2M46 384.5h1M50 384.5h1M57 384.5h1M59 384.5h1M64 384.5h2M72 384.5h1M78 384.5h1M80 384.5h2M86 384.5h1M111 384.5h2M119 384.5h1M25 385.5h1M28 385.5h1M30 385.5h1M33 385.5h1M40 385.5h1M42 385.5h1M49 385.5h2M54 385.5h1M80 385.5h1M88 385.5h1M99 385.5h1M104 385.5h2M112 385.5h1M116 385.5h1M121 385.5h1M123 385.5h1M132 385.5h1M24 386.5h3M29 386.5h1M38 386.5h1M43 386.5h1M47 386.5h1M52 386.5h1M62 386.5h3M70 386.5h1M72 386.5h3M79 386.5h1M82 386.5h3M86 386.5h1M99 386.5h1M101 386.5h1M103 386.5h3M107 386.5h1M119 386.5h3M127 386.5h1M129 386.5h2M30 387.5h1M33 387.5h1M52 387.5h1M54 387.5h1M72 387.5h1M78 387.5h2M88 387.5h1M98 387.5h1M103 387.5h1M110 387.5h2M113 387.5h1M120 387.5h1M125 387.5h1M26 388.5h1M30 388.5h1M34 388.5h1M38 388.5h1M46 388.5h1M49 388.5h2M65 388.5h2M68 388.5h1M72 388.5h1M81 388.5h1M87 388.5h1M96 388.5h1M122 388.5h1M124 388.5h1M24 389.5h1M27 389.5h1M33 389.5h3M45 389.5h1M47 389.5h1M51 389.5h1M53 389.5h2M61 389.5h1M65 389.5h2M70 389.5h1M73 389.5h1M77 389.5h3M81 389.5h1M84 389.5h1M94 389.5h1M100 389.5h1M105 389.5h1M111 389.5h1M119 389.5h2M124 389.5h1M128 389.5h1M131 389.5h1M24 390.5h1M27 390.5h2M32 390.5h2M35 390.5h2M39 390.5h1M47 390.5h1M52 390.5h1M54 390.5h1M56 390.5h1M59 390.5h1M65 390.5h3M75 390.5h1M86 390.5h1M96 390.5h2M100 390.5h1M104 390.5h1M107 390.5h1M115 390.5h1M118 390.5h1M120 390.5h1M125 390.5h1M24 391.5h1M27 391.5h1M54 391.5h1M72 391.5h2M99 391.5h1M110 391.5h1M112 391.5h2M117 391.5h1M119 391.5h2M129 391.5h1M27 392.5h1M31 392.5h1M34 392.5h1M72 392.5h3M76 392.5h1M80 392.5h1M88 392.5h1M107 392.5h1M111 392.5h1M117 392.5h2M125 392.5h1M128 392.5h1M132 392.5h1M25 393.5h1M34 393.5h1M38 393.5h1M40 393.5h1M42 393.5h4M47 393.5h3M55 393.5h1M61 393.5h1M65 393.5h1M75 393.5h3M80 393.5h1M87 393.5h1M107 393.5h1M117 393.5h1M120 393.5h1M122 393.5h3M25 394.5h1M29 394.5h1M33 394.5h4M44 394.5h1M50 394.5h1M55 394.5h4M71 394.5h1M90 394.5h1M106 394.5h1M120 394.5h1M122 394.5h1M124 394.5h1M27 395.5h1M37 395.5h1M45 395.5h1M79 395.5h2M82 395.5h1M89 395.5h2M104 395.5h2M107 395.5h2M112 395.5h1M114 395.5h1M124 395.5h1M129 395.5h1M24 396.5h1M26 396.5h2M30 396.5h1M34 396.5h2M42 396.5h2M46 396.5h2M56 396.5h2M64 396.5h1M80 396.5h1M84 396.5h1M89 396.5h1M103 396.5h2M107 396.5h1M116 396.5h1M124 396.5h1M128 396.5h1M25 397.5h1M31 397.5h1M35 397.5h2M38 397.5h1M47 397.5h2M55 397.5h1M60 397.5h1M63 397.5h1M68 397.5h3M74 397.5h1M80 397.5h2M88 397.5h2M94 397.5h1M96 397.5h1M102 397.5h1M118 397.5h1M125 397.5h2M128 397.5h1M132 397.5h1M28 398.5h1M30 398.5h1M32 398.5h3M42 398.5h1M50 398.5h1M53 398.5h1M59 398.5h1M67 398.5h1M69 398.5h2M72 398.5h1M75 398.5h1M88 398.5h1M112 398.5h1M119 398.5h1M122 398.5h1M126 398.5h1M25 399.5h1M28 399.5h3M41 399.5h1M43 399.5h1M46 399.5h1M48 399.5h2M55 399.5h2M58 399.5h1M61 399.5h6M69 399.5h1M71 399.5h1M76 399.5h2M81 399.5h2M86 399.5h1M89 399.5h1M92 399.5h2M100 399.5h1M112 399.5h1M119 399.5h2M122 399.5h1M124 399.5h2M30 400.5h1M54 400.5h1M61 400.5h1M74 400.5h1M82 400.5h1M84 400.5h1M95 400.5h1M100 400.5h1M105 400.5h2M108 400.5h2M115 400.5h1M127 400.5h1M129 400.5h2M132 400.5h1M41 401.5h1M49 401.5h1M53 401.5h2M57 401.5h1M61 401.5h1M65 401.5h1M70 401.5h1M77 401.5h3M85 401.5h2M89 401.5h1M92 401.5h1M100 401.5h1M106 401.5h3M111 401.5h1M26 402.5h2M38 402.5h1M44 402.5h3M61 402.5h6M71 402.5h1M73 402.5h1M80 402.5h1M83 402.5h2M87 402.5h2M90 402.5h2M95 402.5h1M99 402.5h1M108 402.5h1M112 402.5h3M116 402.5h1M118 402.5h1M121 402.5h1M129 402.5h1M38 403.5h2M46 403.5h1M51 403.5h1M56 403.5h1M58 403.5h3M62 403.5h2M72 403.5h1M85 403.5h1M87 403.5h1M106 403.5h1M108 403.5h1M111 403.5h1M115 403.5h1M117 403.5h1M120 403.5h1M124 403.5h2M128 403.5h2M25 404.5h2M28 404.5h1M30 404.5h2M33 404.5h1M38 404.5h2M42 404.5h1M48 404.5h1M53 404.5h3M63 404.5h1M69 404.5h2M77 404.5h1M83 404.5h1M91 404.5h1M99 404.5h1M106 404.5h3M114 404.5h2M122 404.5h1M127 404.5h2M130 404.5h3M26 405.5h1M54 405.5h3M93 405.5h1M107 405.5h1M116 405.5h1M121 405.5h2M129 405.5h1M47 406.5h5M56 406.5h2M72 406.5h1M77 406.5h1M82 406.5h1M90 406.5h2M101 406.5h1M106 406.5h1M116 406.5h1M119 406.5h3M131 406.5h2M35 407.5h1M37 407.5h3M45 407.5h1M54 407.5h1M56 407.5h1M64 407.5h1M75 407.5h1M81 407.5h1M84 407.5h1M89 407.5h1M99 407.5h1M107 407.5h3M121 407.5h1M126 407.5h1M131 407.5h1M34 408.5h2M43 408.5h1M50 408.5h1M56 408.5h1M58 408.5h1M60 408.5h1M64 408.5h2M83 408.5h1M97 408.5h2M107 408.5h1M109 408.5h1M112 408.5h1M116 408.5h1M118 408.5h3M122 408.5h1M128 408.5h3M27 409.5h1M32 409.5h3M37 409.5h1M39 409.5h1M48 409.5h1M53 409.5h1M55 409.5h1M59 409.5h1M64 409.5h1M69 409.5h1M77 409.5h1M85 409.5h1M98 409.5h1M107 409.5h1M114 409.5h2M119 409.5h6M25 410.5h1M28 410.5h2M32 410.5h2M36 410.5h1M39 410.5h1M41 410.5h1M45 410.5h1M54 410.5h1M57 410.5h1M68 410.5h2M87 410.5h1M89 410.5h1M114 410.5h1M120 410.5h1M128 410.5h1M130 410.5h1M30 411.5h1M36 411.5h2M43 411.5h1M45 411.5h1M49 411.5h1M52 411.5h4M59 411.5h1M64 411.5h1M73 411.5h2M77 411.5h1M79 411.5h1M83 411.5h1M106 411.5h2M111 411.5h3M120 411.5h4M127 411.5h1M27 412.5h2M44 412.5h2M48 412.5h2M52 412.5h2M55 412.5h1M66 412.5h1M69 412.5h1M78 412.5h1M80 412.5h1M88 412.5h1M93 412.5h1M106 412.5h2M113 412.5h1M116 412.5h2M120 412.5h2M130 412.5h1" stroke="#000" stroke-width="1" fill="none"/>
<path d="M24 454.4 V439.5 H25.5 V440 H26.5 V438 H28 V440.5 H29 V438.5 H30.5 V434 H31.5 V447.5 H33 V434.5 H34 V440.5 H35.5 V440 H36.5 V432 H38 V436 H39 V422.5 H40.5 V437.5 H41.5 V435.5 H43 V445 H44 V435.5 H45.5 V431 H46.5 V434.5 H48 V429 H49 V429.5 H50.5 V427 H51.5 V420 H53 V420.5 H54 V420 H55.5 V420 H56.5 V441.5 H58 V430.5 H59 V420 H60.5 V439.5 H61.5 V437 H63 V425.5 H64 V439.5 H65.5 V432.5 H66.5 V440 H68 V432.5 H69 V432 H70.5 V432 H71.5 V432.5 H73 V435.5 H74 V437 H75.5 V433 H76.5 V442.5 H78 V443 H79 V441 H80.5 V443 H81.5 V447 H83 V447.5 H84 V446.5 H85.5 V447.5 H86.5 V447 H88 V449.5 H89 V447 H90.5 V446.5 H91.5 V448.5 H93 V448.5 H94 V445.5 H95.5 V445 H96.5 V445 H98 V441 H99 V439 H100.5 V438.5 H101.5 V444 H103 V426.5 H104 V442.5 H105.5 V439 H106.5 V437.5 H108 V442 H109 V439 H110.5 V442 H111.5 V432.5 H113 V437 H114 V447.5 H115.5 V432.5 H116.5 V437.5 H118 V434.5 H119 V441.5 H120.5 V435.5 H121.5 V428.5 H123 V436 H124 V428 H125.5 V426.5 H126.5 V429.5 H128 V438 H129 V440 H130.5 V445 H131.5 V433 H133 V454.4Z" fill="#000"/>
<line x1="23.8" y1="416" x2="23.8" y2="454.4" stroke="#000" stroke-width="1"/>
<text x="20.6" y="420.9" font-size="8.6" text-anchor="end">6</text>
<text x="20.6" y="433" font-size="8.6" text-anchor="end">4</text>
<text x="20.6" y="445.4" font-size="8.6" text-anchor="end">2</text>
<text x="20.6" y="457.3" font-size="8.6" text-anchor="end">0</text>
<text x="11.4" y="434.6" font-size="8.6" text-anchor="middle" transform="rotate(-90 11.4 434.6)">Spikes/s</text>
<text x="25.8" y="463.1" font-size="8.6" text-anchor="end" transform="rotate(-45 25.8 463.1)">−2,000</text>
<text x="52.6" y="463.1" font-size="8.6" text-anchor="end" transform="rotate(-45 52.6 463.1)">−1,000</text>
<text x="103.4" y="464.4" font-size="8.6" text-anchor="end" transform="rotate(-45 103.4 464.4)">1,000</text>
<text x="131.4" y="464.4" font-size="8.6" text-anchor="end" transform="rotate(-45 131.4 464.4)">2,000</text>
<text x="72.6" y="462.2" font-size="8.6" text-anchor="end" transform="rotate(-45 72.6 462.2)">0</text>
<text x="202.3" y="364.6" font-size="10" text-anchor="middle">RR schedule</text>
<path d="M151 370.5h2M157 370.5h3M164 370.5h1M168 370.5h1M176 370.5h2M180 370.5h1M183 370.5h1M188 370.5h1M192 370.5h2M195 370.5h1M198 370.5h1M201 370.5h1M205 370.5h1M210 370.5h1M213 370.5h3M217 370.5h1M219 370.5h1M222 370.5h2M226 370.5h1M240 370.5h2M251 370.5h2M151 371.5h4M156 371.5h7M167 371.5h2M170 371.5h32M210 371.5h1M215 371.5h2M221 371.5h1M226 371.5h1M229 371.5h2M232 371.5h2M242 371.5h1M246 371.5h1M249 371.5h2M253 371.5h2M152 372.5h2M155 372.5h2M160 372.5h1M162 372.5h1M164 372.5h2M168 372.5h8M177 372.5h7M186 372.5h3M191 372.5h3M196 372.5h3M202 372.5h1M204 372.5h4M212 372.5h2M225 372.5h1M229 372.5h1M231 372.5h2M235 372.5h1M238 372.5h1M240 372.5h1M244 372.5h1M246 372.5h5M252 372.5h2M157 373.5h4M162 373.5h1M164 373.5h3M168 373.5h4M173 373.5h4M178 373.5h7M189 373.5h1M192 373.5h5M203 373.5h1M209 373.5h1M211 373.5h3M225 373.5h1M228 373.5h1M230 373.5h1M236 373.5h1M239 373.5h1M242 373.5h2M247 373.5h1M254 373.5h1M151 374.5h7M164 374.5h1M167 374.5h1M171 374.5h1M176 374.5h1M179 374.5h15M195 374.5h5M201 374.5h2M204 374.5h3M212 374.5h1M233 374.5h1M236 374.5h3M245 374.5h2M248 374.5h5M254 374.5h1M158 375.5h1M160 375.5h1M169 375.5h1M173 375.5h4M178 375.5h2M182 375.5h2M187 375.5h3M191 375.5h8M200 375.5h1M205 375.5h3M212 375.5h1M219 375.5h1M224 375.5h2M229 375.5h1M232 375.5h1M240 375.5h1M242 375.5h1M244 375.5h1M255 375.5h1M151 376.5h1M153 376.5h2M161 376.5h4M166 376.5h1M170 376.5h1M173 376.5h5M180 376.5h7M188 376.5h1M191 376.5h7M199 376.5h4M207 376.5h1M211 376.5h1M215 376.5h2M221 376.5h1M225 376.5h1M227 376.5h3M231 376.5h1M237 376.5h3M150 377.5h1M155 377.5h1M159 377.5h3M166 377.5h8M179 377.5h1M183 377.5h1M185 377.5h1M187 377.5h3M192 377.5h2M195 377.5h5M204 377.5h1M208 377.5h2M216 377.5h3M223 377.5h3M228 377.5h1M234 377.5h2M239 377.5h2M244 377.5h2M252 377.5h1M150 378.5h1M153 378.5h3M163 378.5h1M165 378.5h2M170 378.5h1M173 378.5h1M178 378.5h1M180 378.5h2M189 378.5h5M195 378.5h4M211 378.5h1M219 378.5h3M228 378.5h1M230 378.5h3M235 378.5h2M238 378.5h2M243 378.5h1M245 378.5h1M251 378.5h1M253 378.5h1M150 379.5h3M156 379.5h10M170 379.5h11M184 379.5h9M196 379.5h14M213 379.5h1M215 379.5h2M221 379.5h1M230 379.5h1M236 379.5h3M240 379.5h1M245 379.5h2M249 379.5h3M254 379.5h1M150 380.5h4M155 380.5h4M160 380.5h3M169 380.5h10M186 380.5h2M200 380.5h6M209 380.5h3M213 380.5h2M221 380.5h1M225 380.5h2M229 380.5h2M234 380.5h1M236 380.5h1M246 380.5h1M255 380.5h1M152 381.5h8M163 381.5h1M166 381.5h1M168 381.5h2M172 381.5h1M174 381.5h4M179 381.5h1M181 381.5h2M185 381.5h5M191 381.5h6M198 381.5h3M207 381.5h1M223 381.5h3M232 381.5h3M238 381.5h1M240 381.5h1M246 381.5h1M252 381.5h1M150 382.5h1M154 382.5h1M157 382.5h1M160 382.5h1M164 382.5h1M169 382.5h1M171 382.5h1M179 382.5h2M192 382.5h8M205 382.5h1M208 382.5h2M218 382.5h3M230 382.5h1M235 382.5h1M239 382.5h2M247 382.5h1M249 382.5h3M253 382.5h2M151 383.5h2M154 383.5h4M160 383.5h3M166 383.5h3M170 383.5h4M175 383.5h1M178 383.5h1M182 383.5h2M190 383.5h5M196 383.5h7M205 383.5h4M214 383.5h1M218 383.5h1M222 383.5h1M225 383.5h1M228 383.5h1M231 383.5h1M233 383.5h5M241 383.5h3M246 383.5h1M248 383.5h2M252 383.5h1M151 384.5h1M158 384.5h8M170 384.5h6M179 384.5h7M188 384.5h5M197 384.5h5M203 384.5h3M212 384.5h2M223 384.5h1M229 384.5h5M236 384.5h1M239 384.5h1M245 384.5h1M250 384.5h3M153 385.5h1M155 385.5h1M158 385.5h1M161 385.5h1M163 385.5h1M165 385.5h5M172 385.5h1M179 385.5h2M183 385.5h1M185 385.5h1M188 385.5h1M190 385.5h1M193 385.5h7M202 385.5h3M206 385.5h1M208 385.5h2M211 385.5h2M217 385.5h1M228 385.5h1M230 385.5h1M234 385.5h2M241 385.5h2M246 385.5h1M249 385.5h2M151 386.5h1M153 386.5h2M156 386.5h3M164 386.5h2M170 386.5h2M173 386.5h5M182 386.5h5M188 386.5h13M206 386.5h1M208 386.5h3M214 386.5h2M219 386.5h1M224 386.5h1M232 386.5h1M235 386.5h1M238 386.5h1M240 386.5h1M242 386.5h1M244 386.5h4M249 386.5h1M150 387.5h1M152 387.5h3M156 387.5h5M163 387.5h5M170 387.5h1M173 387.5h3M177 387.5h4M184 387.5h3M193 387.5h5M205 387.5h2M208 387.5h2M218 387.5h2M228 387.5h1M230 387.5h1M232 387.5h1M236 387.5h1M245 387.5h1M247 387.5h1M253 387.5h1M155 388.5h6M164 388.5h1M167 388.5h1M169 388.5h1M172 388.5h4M178 388.5h1M183 388.5h5M190 388.5h1M192 388.5h4M197 388.5h1M201 388.5h5M213 388.5h3M219 388.5h1M150 389.5h27M182 389.5h1M190 389.5h1M193 389.5h6M202 389.5h3M206 389.5h2M209 389.5h2M213 389.5h1M220 389.5h1M222 389.5h1M224 389.5h3M228 389.5h1M236 389.5h1M239 389.5h2M242 389.5h1M246 389.5h2M252 389.5h2M151 390.5h2M160 390.5h3M165 390.5h2M171 390.5h1M174 390.5h3M179 390.5h1M182 390.5h1M184 390.5h1M186 390.5h4M193 390.5h11M205 390.5h1M207 390.5h2M210 390.5h2M216 390.5h1M218 390.5h2M223 390.5h2M228 390.5h2M232 390.5h1M152 391.5h1M157 391.5h1M159 391.5h1M161 391.5h1M163 391.5h2M166 391.5h1M171 391.5h1M174 391.5h1M176 391.5h3M180 391.5h1M188 391.5h1M190 391.5h4M196 391.5h1M198 391.5h2M201 391.5h3M214 391.5h1M218 391.5h2M225 391.5h1M227 391.5h2M240 391.5h1M252 391.5h1M151 392.5h2M155 392.5h1M157 392.5h2M160 392.5h1M162 392.5h4M170 392.5h2M173 392.5h5M183 392.5h2M188 392.5h1M190 392.5h9M200 392.5h1M203 392.5h1M207 392.5h3M212 392.5h2M234 392.5h1M237 392.5h1M240 392.5h2M249 392.5h1M253 392.5h1M155 393.5h1M160 393.5h2M166 393.5h5M175 393.5h4M180 393.5h1M183 393.5h3M190 393.5h1M192 393.5h3M197 393.5h1M200 393.5h1M205 393.5h1M214 393.5h1M222 393.5h1M229 393.5h1M235 393.5h1M244 393.5h1M252 393.5h2M255 393.5h1M154 394.5h2M157 394.5h2M161 394.5h1M164 394.5h3M168 394.5h1M178 394.5h1M186 394.5h1M190 394.5h2M196 394.5h1M199 394.5h1M201 394.5h3M210 394.5h1M215 394.5h1M223 394.5h1M231 394.5h1M234 394.5h2M243 394.5h1M247 394.5h3M253 394.5h2M152 395.5h2M155 395.5h2M159 395.5h1M164 395.5h4M171 395.5h2M176 395.5h1M180 395.5h1M184 395.5h4M191 395.5h5M198 395.5h1M201 395.5h1M204 395.5h1M206 395.5h1M208 395.5h2M211 395.5h1M217 395.5h2M225 395.5h3M229 395.5h4M237 395.5h2M244 395.5h1M246 395.5h4M151 396.5h1M153 396.5h3M159 396.5h1M162 396.5h2M166 396.5h1M173 396.5h3M181 396.5h7M193 396.5h1M200 396.5h1M203 396.5h1M211 396.5h1M213 396.5h1M223 396.5h1M238 396.5h1M245 396.5h1M252 396.5h1M152 397.5h3M159 397.5h3M164 397.5h1M168 397.5h1M170 397.5h5M179 397.5h2M188 397.5h2M191 397.5h1M193 397.5h12M207 397.5h1M217 397.5h3M223 397.5h1M226 397.5h1M231 397.5h2M234 397.5h1M239 397.5h2M248 397.5h1M250 397.5h1M152 398.5h1M155 398.5h1M157 398.5h1M162 398.5h4M169 398.5h4M176 398.5h7M195 398.5h3M199 398.5h1M203 398.5h1M210 398.5h1M212 398.5h2M217 398.5h2M229 398.5h1M236 398.5h1M238 398.5h4M249 398.5h2M253 398.5h1M152 399.5h1M163 399.5h1M168 399.5h2M172 399.5h3M178 399.5h2M182 399.5h1M192 399.5h2M201 399.5h4M208 399.5h1M211 399.5h1M217 399.5h1M239 399.5h2M248 399.5h1M152 400.5h1M154 400.5h3M160 400.5h3M164 400.5h1M167 400.5h3M178 400.5h4M183 400.5h4M195 400.5h1M198 400.5h1M205 400.5h1M211 400.5h1M224 400.5h1M229 400.5h1M242 400.5h1M246 400.5h2M251 400.5h1M151 401.5h2M154 401.5h1M156 401.5h3M161 401.5h1M166 401.5h1M169 401.5h2M173 401.5h2M178 401.5h2M186 401.5h1M190 401.5h3M194 401.5h2M197 401.5h3M201 401.5h3M207 401.5h1M209 401.5h1M219 401.5h1M222 401.5h3M238 401.5h1M241 401.5h1M243 401.5h2M250 401.5h4M255 401.5h1M153 402.5h1M162 402.5h2M169 402.5h6M179 402.5h1M185 402.5h1M187 402.5h3M191 402.5h3M196 402.5h1M208 402.5h1M211 402.5h1M215 402.5h2M220 402.5h4M228 402.5h1M230 402.5h1M241 402.5h1M243 402.5h1M246 402.5h1M249 402.5h1M255 402.5h1M150 403.5h3M157 403.5h3M165 403.5h2M169 403.5h1M177 403.5h1M179 403.5h3M184 403.5h1M186 403.5h2M192 403.5h2M204 403.5h1M211 403.5h1M215 403.5h2M223 403.5h1M228 403.5h1M231 403.5h1M235 403.5h1M237 403.5h3M242 403.5h1M246 403.5h1M248 403.5h1M250 403.5h1M151 404.5h3M160 404.5h9M173 404.5h2M179 404.5h14M194 404.5h4M200 404.5h2M203 404.5h2M206 404.5h2M210 404.5h2M215 404.5h2M222 404.5h2M235 404.5h5M247 404.5h1M253 404.5h1M150 405.5h2M155 405.5h2M158 405.5h5M168 405.5h6M175 405.5h2M178 405.5h8M191 405.5h3M199 405.5h3M203 405.5h3M207 405.5h5M213 405.5h2M216 405.5h1M224 405.5h1M233 405.5h1M235 405.5h2M242 405.5h1M248 405.5h1M250 405.5h1M255 405.5h1M150 406.5h2M159 406.5h1M163 406.5h1M166 406.5h1M171 406.5h5M177 406.5h1M182 406.5h3M190 406.5h1M194 406.5h3M200 406.5h1M202 406.5h1M207 406.5h1M211 406.5h1M225 406.5h1M227 406.5h1M232 406.5h2M238 406.5h2M245 406.5h1M248 406.5h1M250 406.5h1M253 406.5h1M159 407.5h1M161 407.5h2M167 407.5h1M169 407.5h3M175 407.5h6M182 407.5h2M188 407.5h5M200 407.5h4M207 407.5h1M211 407.5h1M214 407.5h1M218 407.5h1M222 407.5h4M229 407.5h5M244 407.5h1M247 407.5h1M254 407.5h2M152 408.5h1M155 408.5h2M159 408.5h1M165 408.5h2M168 408.5h2M173 408.5h2M176 408.5h1M178 408.5h6M186 408.5h3M190 408.5h1M192 408.5h1M198 408.5h4M204 408.5h1M207 408.5h2M211 408.5h3M218 408.5h1M223 408.5h1M226 408.5h1M228 408.5h3M236 408.5h1M239 408.5h1M241 408.5h2M244 408.5h6M254 408.5h1M150 409.5h1M158 409.5h1M163 409.5h1M165 409.5h1M170 409.5h1M172 409.5h2M176 409.5h2M187 409.5h1M189 409.5h4M195 409.5h1M203 409.5h1M206 409.5h1M213 409.5h1M217 409.5h1M228 409.5h2M232 409.5h1M240 409.5h1M242 409.5h1M249 409.5h1M251 409.5h1M254 409.5h1M150 410.5h14M171 410.5h26M198 410.5h3M202 410.5h1M207 410.5h1M210 410.5h1M212 410.5h2M216 410.5h1M221 410.5h1M224 410.5h1M228 410.5h2M231 410.5h5M238 410.5h1M242 410.5h1M247 410.5h1M250 410.5h1M254 410.5h2M151 411.5h1M154 411.5h4M165 411.5h2M169 411.5h3M178 411.5h1M184 411.5h3M188 411.5h7M199 411.5h1M201 411.5h3M208 411.5h1M210 411.5h5M217 411.5h1M220 411.5h3M228 411.5h1M235 411.5h2M242 411.5h2M150 412.5h4M157 412.5h1M162 412.5h1M164 412.5h6M175 412.5h2M179 412.5h1M187 412.5h2M190 412.5h1M192 412.5h6M199 412.5h3M205 412.5h1M207 412.5h3M212 412.5h1M217 412.5h1M236 412.5h1M238 412.5h1M245 412.5h1M251 412.5h1" stroke="#000" stroke-width="1" fill="none"/>
<path d="M150 455 V445.5 H151 V444 H152.5 V445.5 H153.5 V442.5 H155 V442 H156 V442.5 H157.5 V443.5 H158.5 V441 H160 V445 H161 V444.5 H162.5 V438.5 H163.5 V443.5 H165 V444 H166 V444.5 H167.5 V439.5 H168.5 V444.5 H170 V444 H171 V440 H172.5 V443 H173.5 V441 H175 V445.5 H176 V448 H177.5 V441.5 H178.5 V444.5 H180 V443.5 H181 V444.5 H182.5 V441 H183.5 V437.5 H185 V443 H186 V440.5 H187.5 V433.5 H188.5 V441.5 H190 V431.5 H191 V431 H192.5 V427 H193.5 V425.5 H195 V430.5 H196 V439 H197.5 V437 H198.5 V443.5 H200 V442 H201 V443.5 H202.5 V442 H203.5 V444 H205 V447 H206 V445.5 H207.5 V442 H208.5 V444 H210 V447.5 H211 V440.5 H212.5 V447 H213.5 V444.5 H215 V446.5 H216 V448 H217.5 V448.5 H218.5 V448.5 H220 V446.5 H221 V447.5 H222.5 V449 H223.5 V448 H225 V448 H226 V448.5 H227.5 V447 H228.5 V446.5 H230 V447.5 H231 V445 H232.5 V444.5 H233.5 V448.5 H235 V440 H236 V438.5 H237.5 V442.5 H238.5 V439 H240 V439.5 H241 V445 H242.5 V447 H243.5 V442.5 H245 V444 H246 V442.5 H247.5 V442 H248.5 V441.5 H250 V445 H251 V446.5 H252.5 V440 H253.5 V444.5 H255 V443 H256 V455Z" fill="#000"/>
<line x1="150.1" y1="417" x2="150.1" y2="455" stroke="#000" stroke-width="1"/>
<line x1="148.1" y1="417.8" x2="150.1" y2="417.8" stroke="#000" stroke-width="0.8"/>
<text x="146.6" y="420.9" font-size="8.6" text-anchor="end">6</text>
<line x1="148.1" y1="430.2" x2="150.1" y2="430.2" stroke="#000" stroke-width="0.8"/>
<text x="146.6" y="433.3" font-size="8.6" text-anchor="end">4</text>
<line x1="148.1" y1="442.7" x2="150.1" y2="442.7" stroke="#000" stroke-width="0.8"/>
<text x="146.6" y="445.8" font-size="8.6" text-anchor="end">2</text>
<line x1="148.1" y1="454.8" x2="150.1" y2="454.8" stroke="#000" stroke-width="0.8"/>
<text x="146.6" y="457.9" font-size="8.6" text-anchor="end">0</text>
<text x="155.2" y="463.1" font-size="8.6" text-anchor="end" transform="rotate(-45 155.2 463.1)">−2,000</text>
<text x="181.9" y="463.1" font-size="8.6" text-anchor="end" transform="rotate(-45 181.9 463.1)">−1,000</text>
<text x="231.6" y="464.4" font-size="8.6" text-anchor="end" transform="rotate(-45 231.6 464.4)">1,000</text>
<text x="256.6" y="464.4" font-size="8.6" text-anchor="end" transform="rotate(-45 256.6 464.4)">2,000</text>
<text x="201.5" y="462.2" font-size="8.6" text-anchor="end" transform="rotate(-45 201.5 462.2)">0</text>
<text x="131.8" y="488.2" font-size="8.6" text-anchor="middle">Time from lever press (ms)</text>
</g>
<g id="panel-k">
<text x="4.6" y="530.2" font-size="13.5" font-weight="bold">k</text>
<text x="76.9" y="558.6" font-size="10" text-anchor="middle">RI schedule</text>
<path d="M27 562.5h1M29 562.5h1M43 562.5h3M47 562.5h1M53 562.5h1M64 562.5h1M67 562.5h4M72 562.5h1M75 562.5h4M93 562.5h3M100 562.5h1M103 562.5h1M105 562.5h3M112 562.5h3M118 562.5h2M121 562.5h1M128 562.5h1M133 562.5h1M135 562.5h1M31 563.5h2M38 563.5h4M43 563.5h3M47 563.5h3M52 563.5h1M54 563.5h3M58 563.5h1M60 563.5h1M64 563.5h3M69 563.5h3M76 563.5h1M80 563.5h4M87 563.5h1M89 563.5h3M98 563.5h1M102 563.5h2M105 563.5h1M107 563.5h3M111 563.5h2M115 563.5h2M118 563.5h3M122 563.5h4M127 563.5h1M132 563.5h3M26 564.5h2M29 564.5h1M33 564.5h1M36 564.5h1M43 564.5h2M46 564.5h1M52 564.5h1M56 564.5h2M60 564.5h1M65 564.5h2M69 564.5h3M73 564.5h1M79 564.5h3M83 564.5h1M85 564.5h4M91 564.5h5M99 564.5h3M103 564.5h1M109 564.5h1M111 564.5h2M114 564.5h2M121 564.5h1M123 564.5h3M127 564.5h2M130 564.5h1M26 565.5h2M29 565.5h1M33 565.5h2M42 565.5h1M47 565.5h2M60 565.5h2M66 565.5h6M79 565.5h5M85 565.5h6M92 565.5h2M95 565.5h1M98 565.5h2M101 565.5h1M105 565.5h1M109 565.5h2M113 565.5h1M119 565.5h1M121 565.5h1M128 565.5h1M130 565.5h1M26 566.5h1M29 566.5h1M32 566.5h1M36 566.5h3M40 566.5h12M53 566.5h2M60 566.5h2M63 566.5h6M70 566.5h2M75 566.5h1M78 566.5h7M88 566.5h1M90 566.5h4M96 566.5h1M98 566.5h2M104 566.5h1M108 566.5h7M121 566.5h4M129 566.5h6M38 567.5h1M42 567.5h1M44 567.5h2M47 567.5h1M51 567.5h2M56 567.5h2M62 567.5h2M65 567.5h2M71 567.5h2M75 567.5h2M79 567.5h1M83 567.5h6M91 567.5h1M94 567.5h1M97 567.5h1M99 567.5h2M103 567.5h2M106 567.5h2M111 567.5h1M113 567.5h2M116 567.5h2M122 567.5h2M126 567.5h1M133 567.5h1M135 567.5h1M28 568.5h8M37 568.5h6M56 568.5h6M64 568.5h1M67 568.5h3M71 568.5h2M76 568.5h11M88 568.5h1M90 568.5h2M102 568.5h7M110 568.5h1M116 568.5h1M122 568.5h2M127 568.5h1M129 568.5h2M132 568.5h1M135 568.5h1M26 569.5h3M35 569.5h1M39 569.5h1M41 569.5h4M46 569.5h3M52 569.5h2M55 569.5h1M57 569.5h7M66 569.5h2M70 569.5h3M79 569.5h1M82 569.5h4M87 569.5h1M93 569.5h1M97 569.5h3M101 569.5h2M107 569.5h10M118 569.5h1M120 569.5h1M122 569.5h1M128 569.5h2M132 569.5h1M26 570.5h1M30 570.5h3M34 570.5h3M38 570.5h3M49 570.5h2M54 570.5h1M56 570.5h2M59 570.5h1M61 570.5h3M65 570.5h1M68 570.5h3M78 570.5h1M82 570.5h9M92 570.5h4M103 570.5h1M107 570.5h3M111 570.5h3M117 570.5h2M120 570.5h8M131 570.5h2M31 571.5h1M33 571.5h3M38 571.5h3M43 571.5h3M48 571.5h8M59 571.5h3M63 571.5h2M67 571.5h2M77 571.5h3M81 571.5h1M87 571.5h1M91 571.5h1M95 571.5h5M103 571.5h2M106 571.5h3M112 571.5h3M119 571.5h1M126 571.5h2M129 571.5h1M135 571.5h1M27 572.5h1M30 572.5h3M38 572.5h2M41 572.5h9M51 572.5h9M64 572.5h3M70 572.5h1M74 572.5h5M80 572.5h10M91 572.5h5M100 572.5h5M107 572.5h2M110 572.5h2M113 572.5h2M125 572.5h5M132 572.5h2M135 572.5h1M26 573.5h1M28 573.5h1M32 573.5h3M46 573.5h2M49 573.5h2M53 573.5h1M55 573.5h1M57 573.5h1M60 573.5h1M63 573.5h3M67 573.5h1M69 573.5h1M71 573.5h2M74 573.5h3M85 573.5h2M91 573.5h1M95 573.5h2M98 573.5h2M106 573.5h4M111 573.5h1M115 573.5h1M117 573.5h1M120 573.5h1M122 573.5h1M124 573.5h4M131 573.5h1M36 574.5h2M45 574.5h4M52 574.5h4M60 574.5h2M64 574.5h1M66 574.5h2M70 574.5h1M78 574.5h1M80 574.5h2M84 574.5h3M99 574.5h1M101 574.5h1M107 574.5h1M112 574.5h1M114 574.5h1M117 574.5h1M126 574.5h3M131 574.5h1M28 575.5h6M36 575.5h3M46 575.5h2M49 575.5h2M56 575.5h2M62 575.5h1M68 575.5h1M70 575.5h4M75 575.5h1M77 575.5h1M80 575.5h1M82 575.5h5M89 575.5h5M96 575.5h3M100 575.5h1M105 575.5h3M109 575.5h1M114 575.5h2M117 575.5h1M120 575.5h2M125 575.5h3M129 575.5h3M133 575.5h1M135 575.5h1M28 576.5h6M35 576.5h4M40 576.5h2M43 576.5h4M49 576.5h3M54 576.5h1M56 576.5h1M61 576.5h1M65 576.5h1M67 576.5h2M70 576.5h2M76 576.5h1M80 576.5h1M85 576.5h7M95 576.5h2M98 576.5h6M109 576.5h2M113 576.5h1M116 576.5h6M123 576.5h5M132 576.5h4M26 577.5h2M34 577.5h1M36 577.5h3M41 577.5h3M46 577.5h6M56 577.5h3M61 577.5h5M67 577.5h2M71 577.5h4M77 577.5h1M81 577.5h4M86 577.5h2M89 577.5h4M99 577.5h2M104 577.5h1M108 577.5h4M113 577.5h6M121 577.5h3M130 577.5h2M134 577.5h2M26 578.5h3M31 578.5h1M33 578.5h2M36 578.5h2M43 578.5h2M46 578.5h2M49 578.5h1M56 578.5h2M60 578.5h2M73 578.5h1M75 578.5h3M81 578.5h1M87 578.5h2M96 578.5h1M104 578.5h1M107 578.5h4M118 578.5h1M134 578.5h2M29 579.5h2M34 579.5h3M39 579.5h3M43 579.5h5M53 579.5h3M62 579.5h3M66 579.5h2M72 579.5h1M76 579.5h1M81 579.5h3M86 579.5h1M88 579.5h1M92 579.5h4M101 579.5h1M104 579.5h2M111 579.5h1M115 579.5h2M119 579.5h3M125 579.5h1M130 579.5h5M26 580.5h1M34 580.5h1M39 580.5h2M42 580.5h2M46 580.5h1M53 580.5h2M57 580.5h2M64 580.5h2M67 580.5h4M76 580.5h1M80 580.5h3M84 580.5h2M87 580.5h2M90 580.5h1M93 580.5h3M97 580.5h1M100 580.5h2M106 580.5h1M108 580.5h1M113 580.5h3M119 580.5h1M121 580.5h2M129 580.5h1M131 580.5h2M29 581.5h1M32 581.5h1M34 581.5h3M38 581.5h1M40 581.5h3M44 581.5h1M46 581.5h1M51 581.5h1M53 581.5h1M61 581.5h3M70 581.5h1M73 581.5h1M75 581.5h2M78 581.5h2M83 581.5h3M87 581.5h1M90 581.5h2M93 581.5h4M98 581.5h1M100 581.5h4M105 581.5h3M109 581.5h1M112 581.5h2M115 581.5h6M122 581.5h1M128 581.5h1M130 581.5h1M134 581.5h1M27 582.5h1M30 582.5h1M32 582.5h2M35 582.5h1M42 582.5h1M44 582.5h1M49 582.5h1M52 582.5h10M68 582.5h2M75 582.5h2M84 582.5h2M89 582.5h1M94 582.5h2M105 582.5h2M113 582.5h4M121 582.5h5M134 582.5h2M26 583.5h3M30 583.5h17M49 583.5h3M55 583.5h2M59 583.5h2M68 583.5h2M71 583.5h2M77 583.5h5M85 583.5h3M90 583.5h4M95 583.5h3M101 583.5h4M106 583.5h1M108 583.5h4M120 583.5h2M126 583.5h1M128 583.5h1M27 584.5h4M35 584.5h1M37 584.5h3M43 584.5h1M45 584.5h1M48 584.5h1M52 584.5h3M56 584.5h1M59 584.5h2M64 584.5h1M66 584.5h1M69 584.5h1M74 584.5h2M77 584.5h1M84 584.5h3M88 584.5h4M94 584.5h1M96 584.5h2M105 584.5h1M109 584.5h1M116 584.5h3M122 584.5h3M127 584.5h2M130 584.5h2M133 584.5h3M27 585.5h5M33 585.5h1M36 585.5h4M42 585.5h1M45 585.5h4M51 585.5h1M54 585.5h2M57 585.5h3M61 585.5h1M68 585.5h4M74 585.5h1M81 585.5h4M89 585.5h2M97 585.5h1M102 585.5h4M107 585.5h12M124 585.5h2M127 585.5h1M131 585.5h1M133 585.5h1M135 585.5h1M31 586.5h1M41 586.5h2M44 586.5h2M50 586.5h2M53 586.5h1M55 586.5h1M60 586.5h2M63 586.5h8M72 586.5h1M74 586.5h1M79 586.5h3M84 586.5h1M87 586.5h1M89 586.5h1M91 586.5h3M104 586.5h1M108 586.5h2M118 586.5h1M124 586.5h1M130 586.5h2M26 587.5h4M39 587.5h2M42 587.5h1M44 587.5h2M48 587.5h1M50 587.5h1M58 587.5h2M64 587.5h3M69 587.5h4M74 587.5h1M77 587.5h5M85 587.5h9M96 587.5h3M101 587.5h2M104 587.5h8M116 587.5h8M126 587.5h1M130 587.5h1M134 587.5h2M28 588.5h2M33 588.5h2M39 588.5h1M47 588.5h5M53 588.5h1M55 588.5h2M58 588.5h6M65 588.5h12M83 588.5h2M90 588.5h4M99 588.5h15M115 588.5h1M117 588.5h3M129 588.5h2M133 588.5h1M135 588.5h1M28 589.5h1M30 589.5h1M35 589.5h1M38 589.5h1M40 589.5h2M43 589.5h4M48 589.5h2M51 589.5h4M57 589.5h1M60 589.5h4M65 589.5h1M68 589.5h2M71 589.5h1M76 589.5h2M79 589.5h2M83 589.5h1M85 589.5h2M95 589.5h5M101 589.5h5M108 589.5h1M114 589.5h1M116 589.5h1M118 589.5h6M125 589.5h2M28 590.5h1M31 590.5h1M36 590.5h1M38 590.5h2M42 590.5h6M53 590.5h3M58 590.5h5M67 590.5h3M71 590.5h1M75 590.5h5M81 590.5h2M86 590.5h3M91 590.5h4M98 590.5h1M100 590.5h2M103 590.5h3M107 590.5h3M111 590.5h2M114 590.5h2M117 590.5h1M119 590.5h3M123 590.5h7M132 590.5h1M30 591.5h1M34 591.5h3M39 591.5h1M41 591.5h4M46 591.5h1M49 591.5h7M59 591.5h2M64 591.5h2M67 591.5h3M71 591.5h1M73 591.5h1M77 591.5h1M87 591.5h1M90 591.5h1M95 591.5h6M103 591.5h5M110 591.5h1M114 591.5h3M120 591.5h1M122 591.5h2M125 591.5h1M128 591.5h5M28 592.5h2M33 592.5h1M38 592.5h1M46 592.5h2M51 592.5h2M54 592.5h11M69 592.5h3M75 592.5h7M85 592.5h1M90 592.5h1M92 592.5h1M94 592.5h1M97 592.5h3M102 592.5h1M105 592.5h2M108 592.5h2M112 592.5h1M115 592.5h6M123 592.5h3M128 592.5h3M133 592.5h3M34 593.5h2M39 593.5h3M43 593.5h1M45 593.5h1M50 593.5h3M54 593.5h3M58 593.5h6M66 593.5h1M70 593.5h3M74 593.5h1M81 593.5h2M91 593.5h4M101 593.5h1M105 593.5h1M107 593.5h1M110 593.5h3M116 593.5h3M122 593.5h2M133 593.5h1M30 594.5h1M32 594.5h4M38 594.5h5M53 594.5h1M55 594.5h1M58 594.5h2M63 594.5h1M66 594.5h3M70 594.5h3M75 594.5h2M79 594.5h9M91 594.5h3M96 594.5h7M107 594.5h4M112 594.5h1M116 594.5h1M118 594.5h3M122 594.5h3M126 594.5h1M128 594.5h5M134 594.5h2M30 595.5h4M35 595.5h1M37 595.5h1M39 595.5h5M49 595.5h3M54 595.5h3M61 595.5h1M63 595.5h4M69 595.5h2M72 595.5h5M87 595.5h18M111 595.5h1M113 595.5h3M117 595.5h3M121 595.5h1M124 595.5h2M127 595.5h1M133 595.5h1M135 595.5h1M27 596.5h2M30 596.5h2M42 596.5h1M44 596.5h3M48 596.5h2M56 596.5h5M62 596.5h7M70 596.5h4M75 596.5h5M82 596.5h15M102 596.5h2M108 596.5h5M114 596.5h7M122 596.5h3M128 596.5h2M131 596.5h1M133 596.5h3M26 597.5h2M33 597.5h1M35 597.5h8M45 597.5h3M49 597.5h3M54 597.5h3M58 597.5h3M62 597.5h4M67 597.5h2M71 597.5h7M79 597.5h8M89 597.5h6M98 597.5h2M101 597.5h1M109 597.5h1M112 597.5h3M118 597.5h3M124 597.5h1M128 597.5h1M134 597.5h1M31 598.5h1M34 598.5h3M38 598.5h5M58 598.5h2M64 598.5h1M67 598.5h3M72 598.5h2M76 598.5h4M84 598.5h2M88 598.5h3M94 598.5h3M101 598.5h2M104 598.5h2M107 598.5h1M110 598.5h2M115 598.5h2M119 598.5h1M125 598.5h1M37 599.5h14M52 599.5h2M57 599.5h10M70 599.5h6M85 599.5h16M103 599.5h3M107 599.5h8M117 599.5h4M122 599.5h3M129 599.5h1M133 599.5h2M27 600.5h1M30 600.5h2M34 600.5h1M39 600.5h1M44 600.5h2M47 600.5h1M50 600.5h2M60 600.5h1M62 600.5h1M64 600.5h4M69 600.5h3M73 600.5h3M86 600.5h3M90 600.5h1M100 600.5h1M104 600.5h1M109 600.5h1M113 600.5h3M119 600.5h1M123 600.5h1M128 600.5h1M130 600.5h1M134 600.5h1M31 601.5h1M34 601.5h2M37 601.5h2M40 601.5h7M49 601.5h6M56 601.5h1M63 601.5h2M67 601.5h1M69 601.5h1M74 601.5h1M77 601.5h2M83 601.5h2M89 601.5h2M93 601.5h5M101 601.5h7M109 601.5h1M111 601.5h5M117 601.5h3M121 601.5h2M124 601.5h1M126 601.5h1M129 601.5h5M26 602.5h1M32 602.5h1M35 602.5h5M42 602.5h2M46 602.5h1M48 602.5h1M52 602.5h1M55 602.5h1M58 602.5h8M68 602.5h2M71 602.5h8M81 602.5h1M88 602.5h2M91 602.5h2M94 602.5h3M98 602.5h1M103 602.5h5M111 602.5h1M114 602.5h4M119 602.5h1M121 602.5h1M123 602.5h6M130 602.5h1M29 603.5h1M31 603.5h1M39 603.5h4M44 603.5h1M47 603.5h3M55 603.5h3M62 603.5h2M66 603.5h1M70 603.5h10M87 603.5h3M91 603.5h2M99 603.5h4M111 603.5h1M113 603.5h6M124 603.5h3M130 603.5h2M133 603.5h2M28 604.5h2M32 604.5h2M39 604.5h1M41 604.5h2M47 604.5h1M49 604.5h1M51 604.5h1M54 604.5h2M63 604.5h5M70 604.5h2M73 604.5h5M81 604.5h3M86 604.5h8M97 604.5h3M105 604.5h1M107 604.5h3M114 604.5h1M118 604.5h2M122 604.5h1M126 604.5h9M28 605.5h10M39 605.5h1M42 605.5h1M44 605.5h2M49 605.5h3M55 605.5h5M63 605.5h1M69 605.5h5M76 605.5h3M85 605.5h13M103 605.5h4M112 605.5h2M116 605.5h7M128 605.5h1M132 605.5h3" stroke="#000" stroke-width="1" fill="none"/>
<path d="M26 650.8 V642 H27 V642 H28.5 V640 H29.5 V641.5 H31 V639.5 H32 V645 H33 V641.5 H34.5 V642 H35.5 V639 H37 V639.5 H38 V638 H39 V632 H40.5 V641 H41.5 V637.5 H42.5 V638.5 H44 V640 H45 V640 H46.5 V641 H47.5 V640 H48.5 V641.5 H50 V641.5 H51 V640.5 H52.5 V639.5 H53.5 V638 H54.5 V642 H56 V638.5 H57 V641 H58.5 V639.5 H59.5 V639.5 H60.5 V640.5 H62 V635.5 H63 V638 H64.5 V635.5 H65.5 V638 H66.5 V640 H68 V641.5 H69 V641 H70 V641 H71.5 V634.5 H72.5 V640.5 H74 V638.5 H75 V636 H76 V639 H77.5 V640.5 H78.5 V634 H80 V637 H81 V635.5 H82 V629.5 H83.5 V633 H84.5 V633 H86 V635 H87 V636 H88 V634 H89.5 V637 H90.5 V636 H92 V642 H93 V639 H94 V640 H95.5 V639 H96.5 V641 H97.5 V641 H99 V637.5 H100 V639 H101.5 V641.5 H102.5 V638.5 H103.5 V633 H105 V638.5 H106 V642 H107.5 V640 H108.5 V638.5 H109.5 V638 H111 V637.5 H112 V640.5 H113.5 V641 H114.5 V637.5 H115.5 V638.5 H117 V640 H118 V638.5 H119.5 V640 H120.5 V646 H121.5 V639 H123 V640.5 H124 V639.5 H125 V639 H126.5 V642 H127.5 V640 H129 V636.5 H130 V639.5 H131 V636.5 H132.5 V640 H133.5 V645 H135 V639 H136 V650.8Z" fill="#000"/>
<line x1="25.8" y1="611.4" x2="25.8" y2="650.8" stroke="#000" stroke-width="1"/>
<text x="23.2" y="624.28" font-size="9.1" text-anchor="end">20</text>
<text x="23.2" y="639.08" font-size="9.1" text-anchor="end">10</text>
<text x="23.2" y="653.28" font-size="9.1" text-anchor="end">0</text>
<text x="7.6" y="635.3" font-size="9.1" text-anchor="middle" transform="rotate(-90 7.6 635.3)">Spikes/s</text>
<text x="28.8" y="658.6" font-size="9.1" text-anchor="end" transform="rotate(-45 28.8 658.6)">−2,000</text>
<text x="55" y="658.6" font-size="9.1" text-anchor="end" transform="rotate(-45 55 658.6)">−1,000</text>
<text x="104.4" y="659" font-size="9.1" text-anchor="end" transform="rotate(-45 104.4 659)">1,000</text>
<text x="132.6" y="659" font-size="9.1" text-anchor="end" transform="rotate(-45 132.6 659)">2,000</text>
<text x="74.5" y="657.8" font-size="9.1" text-anchor="end" transform="rotate(-45 74.5 657.8)">0</text>
<text x="204.7" y="558.5" font-size="10" text-anchor="middle">RR schedule</text>
<path d="M150 563.5h1M152 563.5h2M155 563.5h9M165 563.5h1M169 563.5h4M178 563.5h4M183 563.5h1M185 563.5h3M191 563.5h3M196 563.5h4M204 563.5h1M206 563.5h1M210 563.5h7M221 563.5h1M224 563.5h1M227 563.5h2M234 563.5h1M240 563.5h1M242 563.5h2M247 563.5h1M253 563.5h1M257 563.5h1M148 564.5h34M184 564.5h59M244 564.5h14M148 565.5h4M153 565.5h3M157 565.5h2M161 565.5h11M174 565.5h10M185 565.5h28M214 565.5h6M221 565.5h2M225 565.5h1M227 565.5h7M236 565.5h1M238 565.5h3M248 565.5h1M251 565.5h5M148 566.5h15M164 566.5h7M173 566.5h4M181 566.5h5M188 566.5h1M193 566.5h2M196 566.5h25M223 566.5h14M238 566.5h7M246 566.5h7M151 567.5h2M154 567.5h11M168 567.5h1M170 567.5h3M174 567.5h4M180 567.5h2M184 567.5h1M188 567.5h7M196 567.5h22M222 567.5h5M228 567.5h3M234 567.5h13M248 567.5h10M148 568.5h5M154 568.5h1M158 568.5h2M163 568.5h4M173 568.5h1M176 568.5h1M181 568.5h5M187 568.5h1M189 568.5h2M192 568.5h8M201 568.5h6M209 568.5h2M212 568.5h5M218 568.5h2M222 568.5h1M227 568.5h2M231 568.5h1M233 568.5h7M243 568.5h3M249 568.5h4M255 568.5h1M257 568.5h1M152 569.5h2M159 569.5h63M228 569.5h6M236 569.5h4M241 569.5h17M149 570.5h7M159 570.5h4M166 570.5h22M193 570.5h27M222 570.5h8M231 570.5h21M254 570.5h4M149 571.5h2M154 571.5h7M164 571.5h5M170 571.5h1M173 571.5h1M175 571.5h3M179 571.5h6M187 571.5h31M219 571.5h2M222 571.5h2M225 571.5h8M239 571.5h6M252 571.5h1M255 571.5h3M148 572.5h3M153 572.5h28M184 572.5h2M191 572.5h44M236 572.5h2M240 572.5h18M149 573.5h6M156 573.5h8M167 573.5h1M173 573.5h4M183 573.5h4M188 573.5h5M196 573.5h22M219 573.5h1M224 573.5h1M226 573.5h1M232 573.5h4M237 573.5h2M240 573.5h3M244 573.5h1M246 573.5h1M252 573.5h1M256 573.5h2M148 574.5h9M159 574.5h1M163 574.5h1M168 574.5h1M170 574.5h1M172 574.5h1M174 574.5h1M177 574.5h2M180 574.5h1M183 574.5h6M190 574.5h3M197 574.5h12M210 574.5h1M213 574.5h1M215 574.5h7M223 574.5h1M225 574.5h2M229 574.5h2M233 574.5h9M243 574.5h1M247 574.5h8M256 574.5h2M151 575.5h15M168 575.5h3M173 575.5h1M177 575.5h2M185 575.5h3M189 575.5h3M193 575.5h24M220 575.5h1M222 575.5h2M225 575.5h8M234 575.5h4M239 575.5h1M247 575.5h4M252 575.5h6M151 576.5h3M155 576.5h8M164 576.5h12M177 576.5h2M180 576.5h4M185 576.5h32M219 576.5h17M240 576.5h3M245 576.5h13M150 577.5h3M156 577.5h2M161 577.5h1M165 577.5h3M169 577.5h4M178 577.5h7M186 577.5h1M188 577.5h1M190 577.5h25M218 577.5h9M228 577.5h13M242 577.5h1M244 577.5h1M246 577.5h2M249 577.5h4M256 577.5h2M149 578.5h2M154 578.5h2M158 578.5h4M164 578.5h4M172 578.5h2M177 578.5h1M179 578.5h2M184 578.5h1M187 578.5h5M195 578.5h15M214 578.5h1M217 578.5h1M219 578.5h5M225 578.5h15M242 578.5h2M246 578.5h4M251 578.5h1M253 578.5h1M255 578.5h2M155 579.5h101M148 580.5h4M154 580.5h1M156 580.5h5M162 580.5h9M176 580.5h42M220 580.5h1M222 580.5h3M226 580.5h1M229 580.5h9M239 580.5h9M249 580.5h4M255 580.5h1M257 580.5h1M149 581.5h10M160 581.5h3M165 581.5h1M167 581.5h1M171 581.5h1M173 581.5h8M182 581.5h34M218 581.5h7M227 581.5h6M235 581.5h2M238 581.5h1M240 581.5h2M248 581.5h1M250 581.5h7M148 582.5h2M151 582.5h2M154 582.5h4M162 582.5h1M164 582.5h2M167 582.5h12M186 582.5h1M188 582.5h23M212 582.5h1M214 582.5h1M221 582.5h1M223 582.5h3M228 582.5h2M233 582.5h4M238 582.5h4M246 582.5h4M251 582.5h1M256 582.5h1M150 583.5h4M157 583.5h6M164 583.5h2M168 583.5h5M175 583.5h4M180 583.5h5M186 583.5h17M204 583.5h7M212 583.5h1M216 583.5h8M226 583.5h1M228 583.5h1M234 583.5h13M248 583.5h3M253 583.5h5M148 584.5h4M154 584.5h1M158 584.5h10M169 584.5h3M173 584.5h2M176 584.5h3M181 584.5h2M184 584.5h1M186 584.5h3M191 584.5h2M195 584.5h4M202 584.5h1M206 584.5h2M209 584.5h5M216 584.5h2M220 584.5h1M222 584.5h2M226 584.5h1M228 584.5h2M233 584.5h2M236 584.5h2M239 584.5h1M241 584.5h4M249 584.5h1M252 584.5h2M257 584.5h1M151 585.5h13M165 585.5h9M175 585.5h40M219 585.5h4M224 585.5h1M228 585.5h27M256 585.5h1M149 586.5h7M157 586.5h4M163 586.5h2M166 586.5h1M169 586.5h3M173 586.5h9M184 586.5h4M190 586.5h47M238 586.5h1M243 586.5h3M247 586.5h5M254 586.5h4M149 587.5h3M153 587.5h1M155 587.5h1M157 587.5h2M160 587.5h8M171 587.5h1M173 587.5h5M181 587.5h1M183 587.5h1M185 587.5h2M189 587.5h22M212 587.5h2M215 587.5h1M217 587.5h1M221 587.5h2M224 587.5h4M229 587.5h1M231 587.5h6M238 587.5h1M242 587.5h6M254 587.5h4M150 588.5h12M166 588.5h4M171 588.5h2M174 588.5h4M179 588.5h2M182 588.5h2M186 588.5h4M191 588.5h19M213 588.5h2M216 588.5h2M219 588.5h1M221 588.5h5M228 588.5h8M238 588.5h5M246 588.5h3M251 588.5h1M253 588.5h5M148 589.5h2M153 589.5h1M156 589.5h1M158 589.5h2M161 589.5h3M166 589.5h2M170 589.5h3M174 589.5h6M182 589.5h5M188 589.5h2M200 589.5h12M215 589.5h1M218 589.5h1M221 589.5h3M227 589.5h6M237 589.5h4M242 589.5h1M245 589.5h1M247 589.5h1M249 589.5h3M257 589.5h1M148 590.5h3M153 590.5h1M155 590.5h2M158 590.5h2M161 590.5h3M165 590.5h8M175 590.5h2M183 590.5h2M187 590.5h1M189 590.5h27M218 590.5h1M220 590.5h1M224 590.5h1M228 590.5h4M235 590.5h2M238 590.5h1M241 590.5h3M247 590.5h1M249 590.5h1M251 590.5h1M254 590.5h1M256 590.5h1M149 591.5h4M156 591.5h21M178 591.5h2M181 591.5h34M217 591.5h5M223 591.5h6M231 591.5h1M237 591.5h1M239 591.5h5M248 591.5h6M256 591.5h1M149 592.5h8M158 592.5h6M166 592.5h2M169 592.5h1M171 592.5h15M194 592.5h26M222 592.5h2M225 592.5h1M232 592.5h1M237 592.5h2M240 592.5h1M242 592.5h5M249 592.5h1M253 592.5h3M257 592.5h1M148 593.5h2M154 593.5h5M162 593.5h5M168 593.5h3M172 593.5h10M184 593.5h2M196 593.5h18M215 593.5h3M221 593.5h2M224 593.5h1M228 593.5h3M232 593.5h5M238 593.5h3M246 593.5h1M250 593.5h1M252 593.5h1M254 593.5h3M149 594.5h1M151 594.5h4M158 594.5h2M161 594.5h6M169 594.5h1M171 594.5h4M177 594.5h4M184 594.5h1M188 594.5h6M198 594.5h17M217 594.5h2M222 594.5h5M230 594.5h2M233 594.5h2M241 594.5h4M246 594.5h1M249 594.5h2M252 594.5h6M148 595.5h1M152 595.5h2M155 595.5h1M157 595.5h2M160 595.5h2M165 595.5h1M167 595.5h5M175 595.5h3M180 595.5h1M183 595.5h6M190 595.5h20M211 595.5h1M216 595.5h2M221 595.5h7M229 595.5h5M235 595.5h3M240 595.5h2M244 595.5h1M247 595.5h3M252 595.5h1M254 595.5h2M257 595.5h1M148 596.5h14M163 596.5h7M171 596.5h4M179 596.5h11M192 596.5h21M215 596.5h9M226 596.5h3M231 596.5h3M236 596.5h5M242 596.5h8M252 596.5h4M257 596.5h1M150 597.5h2M153 597.5h1M155 597.5h1M157 597.5h4M163 597.5h1M166 597.5h9M181 597.5h4M186 597.5h2M190 597.5h2M193 597.5h19M215 597.5h5M221 597.5h2M226 597.5h3M232 597.5h4M240 597.5h3M244 597.5h1M246 597.5h2M249 597.5h9M148 598.5h1M153 598.5h5M159 598.5h4M165 598.5h5M172 598.5h2M177 598.5h6M184 598.5h1M186 598.5h4M192 598.5h1M197 598.5h12M210 598.5h8M221 598.5h5M228 598.5h1M230 598.5h2M233 598.5h2M236 598.5h4M243 598.5h2M246 598.5h1M248 598.5h1M250 598.5h3M255 598.5h3M151 599.5h4M156 599.5h5M167 599.5h3M173 599.5h12M186 599.5h1M188 599.5h30M219 599.5h4M224 599.5h2M230 599.5h5M236 599.5h16M148 600.5h3M152 600.5h7M161 600.5h2M164 600.5h2M167 600.5h7M175 600.5h1M177 600.5h2M180 600.5h4M185 600.5h14M200 600.5h12M213 600.5h1M218 600.5h8M228 600.5h2M232 600.5h3M236 600.5h7M247 600.5h3M252 600.5h6M148 601.5h1M152 601.5h2M157 601.5h7M166 601.5h1M169 601.5h6M176 601.5h1M181 601.5h1M184 601.5h1M187 601.5h1M190 601.5h22M213 601.5h1M215 601.5h1M217 601.5h3M221 601.5h1M224 601.5h3M233 601.5h1M235 601.5h4M240 601.5h1M242 601.5h2M247 601.5h3M251 601.5h1M256 601.5h2M151 602.5h8M160 602.5h5M167 602.5h6M176 602.5h2M180 602.5h3M187 602.5h71M149 603.5h1M153 603.5h9M166 603.5h2M170 603.5h3M178 603.5h5M185 603.5h2M194 603.5h23M218 603.5h11M230 603.5h28M148 604.5h2M152 604.5h8M161 604.5h2M165 604.5h1M168 604.5h3M172 604.5h7M180 604.5h2M183 604.5h3M187 604.5h5M193 604.5h7M201 604.5h15M220 604.5h1M222 604.5h7M231 604.5h1M233 604.5h3M238 604.5h6M246 604.5h3M251 604.5h1M148 605.5h2M151 605.5h2M154 605.5h9M164 605.5h1M166 605.5h3M170 605.5h4M175 605.5h1M177 605.5h1M179 605.5h4M184 605.5h1M186 605.5h6M193 605.5h17M212 605.5h2M215 605.5h3M223 605.5h2M227 605.5h2M230 605.5h2M235 605.5h5M245 605.5h2M248 605.5h3M252 605.5h2M255 605.5h1M148 606.5h1M153 606.5h3M160 606.5h3M164 606.5h1M166 606.5h1M170 606.5h2M173 606.5h1M176 606.5h2M180 606.5h1M183 606.5h5M191 606.5h1M195 606.5h19M215 606.5h1M218 606.5h6M226 606.5h3M233 606.5h2M236 606.5h1M241 606.5h4M247 606.5h4M252 606.5h1M254 606.5h4" stroke="#000" stroke-width="1" fill="none"/>
<path d="M148 651 V640 H149 V641 H150.5 V641 H151.5 V639.5 H153 V641 H154 V640.5 H155 V640.5 H156.5 V639.5 H157.5 V639 H159 V639 H160 V640 H161 V639.5 H162.5 V638 H163.5 V639.5 H164.5 V640.5 H166 V640 H167 V638.5 H168.5 V639 H169.5 V639.5 H170.5 V640 H172 V640.5 H173 V640.5 H174.5 V640 H175.5 V640 H176.5 V639 H178 V639.5 H179 V639.5 H180.5 V640 H181.5 V639.5 H182.5 V640 H184 V639.5 H185 V639 H186.5 V639 H187.5 V639 H188.5 V638 H190 V638 H191 V637 H192 V637.5 H193.5 V636 H194.5 V636 H196 V632.5 H197 V630.5 H198 V627 H199.5 V624 H200.5 V618 H202 V614.5 H203 V615 H204 V614 H205.5 V614.5 H206.5 V620 H208 V625.5 H209 V627.5 H210 V629.5 H211.5 V632.5 H212.5 V631.5 H214 V632 H215 V632 H216 V632.5 H217.5 V633 H218.5 V634.5 H219.5 V635.5 H221 V636 H222 V636.5 H223.5 V637 H224.5 V638.5 H225.5 V637 H227 V638 H228 V638 H229.5 V639 H230.5 V638.5 H231.5 V638.5 H233 V640 H234 V639.5 H235.5 V640 H236.5 V639.5 H237.5 V640.5 H239 V640 H240 V640 H241.5 V639 H242.5 V638 H243.5 V638 H245 V640 H246 V639.5 H247 V639.5 H248.5 V639 H249.5 V640 H251 V640 H252 V640 H253 V640 H254.5 V639.5 H255.5 V639 H257 V640 H258 V651Z" fill="#000"/>
<line x1="147.7" y1="611.5" x2="147.7" y2="651" stroke="#000" stroke-width="1"/>
<text x="145.4" y="621.18" font-size="9.1" text-anchor="end">20</text>
<text x="145.4" y="635.58" font-size="9.1" text-anchor="end">10</text>
<text x="145.4" y="650.28" font-size="9.1" text-anchor="end">0</text>
<text x="152" y="658.6" font-size="9.1" text-anchor="end" transform="rotate(-45 152 658.6)">−2,000</text>
<text x="178.6" y="658.6" font-size="9.1" text-anchor="end" transform="rotate(-45 178.6 658.6)">−1,000</text>
<text x="227.6" y="659" font-size="9.1" text-anchor="end" transform="rotate(-45 227.6 659)">1,000</text>
<text x="255" y="659" font-size="9.1" text-anchor="end" transform="rotate(-45 255 659)">2,000</text>
<text x="197.8" y="657.8" font-size="9.1" text-anchor="end" transform="rotate(-45 197.8 657.8)">0</text>
<text x="131.6" y="691.3" font-size="8.6" text-anchor="middle">Time from lever press (ms)</text>
</g>
<g id="panel-d">
<text x="279.8" y="173.8" font-size="13.5" font-weight="bold">d</text>
<rect x="333.1" y="217.65" width="8.3" height="74.25" fill="#7dcef3" stroke="#1f4552" stroke-width="1.05"/>
<rect x="345.8" y="241.2" width="8.2" height="50.7" fill="#3b54a5" stroke="#121d55" stroke-width="1.05"/>
<rect x="367.3" y="225.84" width="8.2" height="66.06" fill="#7dcef3" stroke="#1f4552" stroke-width="1.05"/>
<rect x="379.9" y="225.84" width="8.3" height="66.06" fill="#3b54a5" stroke="#121d55" stroke-width="1.05"/>
<line x1="326.2" y1="189.1" x2="326.2" y2="292.3" stroke="#222" stroke-width="0.9"/>
<line x1="325.8" y1="291.9" x2="394.4" y2="291.9" stroke="#222" stroke-width="0.9"/>
<line x1="323.4" y1="291.9" x2="326.2" y2="291.9" stroke="#222" stroke-width="0.9"/>
<text x="321.8" y="295.4" font-size="9.7" text-anchor="end">0</text>
<line x1="323.4" y1="240.7" x2="326.2" y2="240.7" stroke="#222" stroke-width="0.9"/>
<text x="321.8" y="244.2" font-size="9.7" text-anchor="end">50</text>
<line x1="323.4" y1="189.5" x2="326.2" y2="189.5" stroke="#222" stroke-width="0.9"/>
<text x="321.8" y="193" font-size="9.7" text-anchor="end">100</text>
<line x1="343.5" y1="291.9" x2="343.5" y2="294.3" stroke="#222" stroke-width="0.9"/>
<text x="343.5" y="304.8" font-size="9.7" text-anchor="middle">1</text>
<line x1="377.4" y1="291.9" x2="377.4" y2="294.3" stroke="#222" stroke-width="0.9"/>
<text x="377.4" y="304.8" font-size="9.7" text-anchor="middle">6</text>
<text x="359.8" y="314.9" font-size="9.7" text-anchor="middle">Day</text>
<rect x="333.1" y="186.1" width="11.6" height="10" fill="#3b54a5" stroke="#121d55" stroke-width="1.05"/>
<text x="349.6" y="194.7" font-size="9.3">RR</text>
<rect x="333.1" y="201.2" width="11.6" height="9.8" fill="#7dcef3" stroke="#1f4552" stroke-width="1.05"/>
<text x="349.6" y="209.8" font-size="9.3">RI</text>
<text x="289.3" y="242.4" font-size="10" text-anchor="middle" transform="rotate(-90 289.3 242.4)">% Lever-press-related</text>
<text x="301.4" y="242.7" font-size="10" text-anchor="middle" transform="rotate(-90 301.4 242.7)">activity</text>
</g>
<g id="panel-h">
<text x="279.8" y="353.9" font-size="13.5" font-weight="bold">h</text>
<rect x="330.1" y="404.73" width="8.3" height="62.17" fill="#f08583" stroke="#6e1a18" stroke-width="1.05"/>
<rect x="343.5" y="408.3" width="7.8" height="58.6" fill="#e7332b" stroke="#701210" stroke-width="1.05"/>
<rect x="364.3" y="424.6" width="8.2" height="42.3" fill="#f08583" stroke="#6e1a18" stroke-width="1.05"/>
<rect x="377.4" y="408.3" width="7.8" height="58.6" fill="#e7332b" stroke="#701210" stroke-width="1.05"/>
<line x1="323.4" y1="364.6" x2="323.4" y2="467.3" stroke="#222" stroke-width="0.9"/>
<line x1="323" y1="466.9" x2="391.4" y2="466.9" stroke="#222" stroke-width="0.9"/>
<line x1="320.6" y1="466.9" x2="323.4" y2="466.9" stroke="#222" stroke-width="0.9"/>
<text x="318.8" y="470.4" font-size="9.7" text-anchor="end">0</text>
<line x1="320.6" y1="415.95" x2="323.4" y2="415.95" stroke="#222" stroke-width="0.9"/>
<text x="318.8" y="419.45" font-size="9.7" text-anchor="end">50</text>
<line x1="320.6" y1="365" x2="323.4" y2="365" stroke="#222" stroke-width="0.9"/>
<text x="318.8" y="368.5" font-size="9.7" text-anchor="end">100</text>
<line x1="340.2" y1="466.9" x2="340.2" y2="469.3" stroke="#222" stroke-width="0.9"/>
<text x="340.2" y="479.1" font-size="9.7" text-anchor="middle">1</text>
<line x1="374.6" y1="466.9" x2="374.6" y2="469.3" stroke="#222" stroke-width="0.9"/>
<text x="374.6" y="479.1" font-size="9.7" text-anchor="middle">6</text>
<text x="358.5" y="489" font-size="9.7" text-anchor="middle">Day</text>
<rect x="335" y="367.3" width="10.6" height="8.8" fill="#f08583" stroke="#6e1a18" stroke-width="1.05"/>
<text x="349.2" y="375.3" font-size="9.3">RI</text>
<rect x="335" y="381.1" width="10.6" height="8.8" fill="#e7332b" stroke="#701210" stroke-width="1.05"/>
<text x="349.2" y="389.6" font-size="9.3">RR</text>
<text x="289.3" y="417" font-size="10" text-anchor="middle" transform="rotate(-90 289.3 417)">% Lever-press relatled</text>
<text x="300.8" y="416.2" font-size="10" text-anchor="middle" transform="rotate(-90 300.8 416.2)">activity</text>
</g>
<g id="panel-l">
<text x="280.2" y="529.4" font-size="13.5" font-weight="bold">l</text>
<rect x="332.6" y="608.71" width="8.5" height="42.79" fill="#9c9c9c" stroke="#2a2a2a" stroke-width="1.05"/>
<rect x="345.8" y="620.86" width="8.3" height="30.64" fill="#000" stroke="#000" stroke-width="1.05"/>
<rect x="366.6" y="622.9" width="8.3" height="28.6" fill="#9c9c9c" stroke="#2a2a2a" stroke-width="1.05"/>
<rect x="379.6" y="614.84" width="8.3" height="36.66" fill="#000" stroke="#000" stroke-width="1.05"/>
<line x1="326.4" y1="549" x2="326.4" y2="651.9" stroke="#222" stroke-width="0.9"/>
<line x1="326" y1="651.5" x2="394.3" y2="651.5" stroke="#222" stroke-width="0.9"/>
<line x1="323.6" y1="651.5" x2="326.4" y2="651.5" stroke="#222" stroke-width="0.9"/>
<text x="321.5" y="655" font-size="9.7" text-anchor="end">0</text>
<line x1="323.6" y1="600.45" x2="326.4" y2="600.45" stroke="#222" stroke-width="0.9"/>
<text x="321.5" y="603.95" font-size="9.7" text-anchor="end">50</text>
<line x1="323.6" y1="549.4" x2="326.4" y2="549.4" stroke="#222" stroke-width="0.9"/>
<text x="321.5" y="552.9" font-size="9.7" text-anchor="end">100</text>
<line x1="343.1" y1="651.5" x2="343.1" y2="653.9" stroke="#222" stroke-width="0.9"/>
<text x="343.1" y="665" font-size="9.7" text-anchor="middle">1</text>
<line x1="376.9" y1="651.5" x2="376.9" y2="653.9" stroke="#222" stroke-width="0.9"/>
<text x="376.9" y="665" font-size="9.7" text-anchor="middle">6</text>
<text x="358.8" y="680.4" font-size="9.7" text-anchor="middle">Day</text>
<rect x="336" y="552.3" width="11.3" height="9.3" fill="#000" stroke="#000" stroke-width="1.05"/>
<text x="351" y="560.9" font-size="9.3">RR</text>
<rect x="336" y="569" width="11.3" height="9.3" fill="#9c9c9c" stroke="#2a2a2a" stroke-width="1.05"/>
<text x="351" y="577.6" font-size="9.3">RI</text>
<text x="290" y="602.4" font-size="10" text-anchor="middle" transform="rotate(-90 290 602.4)">%&#160; Lever-press-related</text>
<text x="302.2" y="601.2" font-size="10" text-anchor="middle" transform="rotate(-90 302.2 601.2)">activity</text>
</g>
<g id="panel-e">
<text x="411.3" y="174" font-size="13.5" font-weight="bold">e</text>
<rect x="452.9" y="190.9" width="10" height="48.45" fill="#7dcef3" stroke="#1f4552" stroke-width="1.05"/>
<rect x="452.9" y="238.85" width="10" height="48.45" fill="#3b54a5" stroke="#121d55" stroke-width="1.05"/>
<rect x="470.2" y="190.9" width="9.7" height="29.07" fill="#7dcef3" stroke="#1f4552" stroke-width="1.05"/>
<rect x="470.2" y="219.47" width="9.7" height="67.83" fill="#3b54a5" stroke="#121d55" stroke-width="1.05"/>
<rect x="487.3" y="190.9" width="9.7" height="22.29" fill="#7dcef3" stroke="#1f4552" stroke-width="1.05"/>
<rect x="487.3" y="212.69" width="9.7" height="74.61" fill="#3b54a5" stroke="#121d55" stroke-width="1.05"/>
<rect x="503.8" y="190.9" width="10" height="22.29" fill="#7dcef3" stroke="#1f4552" stroke-width="1.05"/>
<rect x="503.8" y="212.69" width="10" height="74.61" fill="#3b54a5" stroke="#121d55" stroke-width="1.05"/>
<line x1="449.4" y1="185.7" x2="449.4" y2="287.7" stroke="#222" stroke-width="0.9"/>
<line x1="449" y1="287.3" x2="517.1" y2="287.3" stroke="#222" stroke-width="0.9"/>
<line x1="446.6" y1="287.3" x2="449.4" y2="287.3" stroke="#222" stroke-width="0.9"/>
<text x="445.2" y="290.8" font-size="9.7" text-anchor="end">0</text>
<line x1="446.6" y1="238.85" x2="449.4" y2="238.85" stroke="#222" stroke-width="0.9"/>
<text x="445.2" y="242.35" font-size="9.7" text-anchor="end">50</text>
<line x1="446.6" y1="190.4" x2="449.4" y2="190.4" stroke="#222" stroke-width="0.9"/>
<text x="445.2" y="193.9" font-size="9.7" text-anchor="end">100</text>
<line x1="457.9" y1="287.3" x2="457.9" y2="289.7" stroke="#222" stroke-width="0.9"/>
<text x="457.9" y="301.5" font-size="9.7" text-anchor="middle">RI</text>
<line x1="475.05" y1="287.3" x2="475.05" y2="289.7" stroke="#222" stroke-width="0.9"/>
<text x="475.05" y="301.5" font-size="9.7" text-anchor="middle">RR</text>
<line x1="492.15" y1="287.3" x2="492.15" y2="289.7" stroke="#222" stroke-width="0.9"/>
<text x="492.15" y="301.5" font-size="9.7" text-anchor="middle">RI</text>
<line x1="508.8" y1="287.3" x2="508.8" y2="289.7" stroke="#222" stroke-width="0.9"/>
<text x="508.8" y="301.5" font-size="9.7" text-anchor="middle">RR</text>
<text x="466.9" y="314.9" font-size="9.7" text-anchor="middle">Day 1</text>
<text x="500.8" y="314.9" font-size="9.7" text-anchor="middle">Day 6</text>
<rect x="519.2" y="191.5" width="11.4" height="9.6" fill="#3b54a5" stroke="#121d55" stroke-width="1.05"/>
<text x="534.2" y="199.7" font-size="9.9">Both</text>
<rect x="519.2" y="205.8" width="11.4" height="9.4" fill="#7dcef3" stroke="#1f4552" stroke-width="1.05"/>
<text x="534.2" y="213.7" font-size="9.9">Specific</text>
<text x="422.5" y="239.2" font-size="10" text-anchor="middle" transform="rotate(-90 422.5 239.2)">% Lever-press neurons</text>
</g>
<g id="panel-i">
<text x="412.3" y="354.2" font-size="13.5" font-weight="bold">i</text>
<rect x="450.6" y="370.1" width="10" height="33.91" fill="#f08583" stroke="#6e1a18" stroke-width="1.05"/>
<rect x="450.6" y="403.51" width="10" height="62.99" fill="#e7332b" stroke="#701210" stroke-width="1.05"/>
<rect x="467.4" y="370.1" width="10.2" height="33.91" fill="#f08583" stroke="#6e1a18" stroke-width="1.05"/>
<rect x="467.4" y="403.51" width="10.2" height="62.99" fill="#e7332b" stroke="#701210" stroke-width="1.05"/>
<rect x="484.5" y="370.1" width="9.9" height="25.19" fill="#f08583" stroke="#6e1a18" stroke-width="1.05"/>
<rect x="484.5" y="394.79" width="9.9" height="71.71" fill="#e7332b" stroke="#701210" stroke-width="1.05"/>
<rect x="501.3" y="370.1" width="10.2" height="42.64" fill="#f08583" stroke="#6e1a18" stroke-width="1.05"/>
<rect x="501.3" y="412.24" width="10.2" height="54.26" fill="#e7332b" stroke="#701210" stroke-width="1.05"/>
<line x1="447" y1="364.9" x2="447" y2="466.9" stroke="#222" stroke-width="0.9"/>
<line x1="446.6" y1="466.5" x2="514.8" y2="466.5" stroke="#222" stroke-width="0.9"/>
<line x1="444.2" y1="466.5" x2="447" y2="466.5" stroke="#222" stroke-width="0.9"/>
<text x="443.5" y="470" font-size="9.7" text-anchor="end">0</text>
<line x1="444.2" y1="418.05" x2="447" y2="418.05" stroke="#222" stroke-width="0.9"/>
<text x="443.5" y="421.55" font-size="9.7" text-anchor="end">50</text>
<line x1="444.2" y1="369.6" x2="447" y2="369.6" stroke="#222" stroke-width="0.9"/>
<text x="443.5" y="373.1" font-size="9.7" text-anchor="end">100</text>
<line x1="455.6" y1="466.5" x2="455.6" y2="468.9" stroke="#222" stroke-width="0.9"/>
<text x="455.6" y="479.8" font-size="9.7" text-anchor="middle">RI</text>
<line x1="472.5" y1="466.5" x2="472.5" y2="468.9" stroke="#222" stroke-width="0.9"/>
<text x="472.5" y="479.8" font-size="9.7" text-anchor="middle">RR</text>
<line x1="489.45" y1="466.5" x2="489.45" y2="468.9" stroke="#222" stroke-width="0.9"/>
<text x="489.45" y="479.8" font-size="9.7" text-anchor="middle">RI</text>
<line x1="506.4" y1="466.5" x2="506.4" y2="468.9" stroke="#222" stroke-width="0.9"/>
<text x="506.4" y="479.8" font-size="9.7" text-anchor="middle">RR</text>
<text x="463" y="492" font-size="9.7" text-anchor="middle">Day 1</text>
<text x="498.4" y="492" font-size="9.7" text-anchor="middle">Day 6</text>
<rect x="518.3" y="371" width="11.2" height="9" fill="#f08583" stroke="#6e1a18" stroke-width="1.05"/>
<text x="534.2" y="379.4" font-size="9.9">Specific</text>
<rect x="518.3" y="386.9" width="11.2" height="9" fill="#e7332b" stroke="#701210" stroke-width="1.05"/>
<text x="534.2" y="394.6" font-size="9.9">Both</text>
<text x="421.3" y="418.3" font-size="10" text-anchor="middle" transform="rotate(-90 421.3 418.3)">% Lever-press neurons</text>
</g>
<g id="panel-m">
<text x="411.8" y="529.5" font-size="13.5" font-weight="bold">m</text>
<rect x="452.2" y="553.9" width="10.1" height="55.63" fill="#a3a3a3" stroke="#2a2a2a" stroke-width="1.05"/>
<rect x="452.2" y="609.03" width="10.1" height="41.97" fill="#000" stroke="#000" stroke-width="1.05"/>
<rect x="468.8" y="553.9" width="10.2" height="32.21" fill="#a3a3a3" stroke="#2a2a2a" stroke-width="1.05"/>
<rect x="468.8" y="585.61" width="10.2" height="65.39" fill="#000" stroke="#000" stroke-width="1.05"/>
<rect x="485.7" y="553.9" width="10.1" height="39.04" fill="#a3a3a3" stroke="#2a2a2a" stroke-width="1.05"/>
<rect x="485.7" y="592.44" width="10.1" height="58.56" fill="#000" stroke="#000" stroke-width="1.05"/>
<rect x="502.8" y="553.9" width="10.2" height="46.85" fill="#a3a3a3" stroke="#2a2a2a" stroke-width="1.05"/>
<rect x="502.8" y="600.25" width="10.2" height="50.75" fill="#000" stroke="#000" stroke-width="1.05"/>
<line x1="449.2" y1="549.3" x2="449.2" y2="651.4" stroke="#222" stroke-width="0.9"/>
<line x1="448.8" y1="651" x2="516.2" y2="651" stroke="#222" stroke-width="0.9"/>
<line x1="446.4" y1="651" x2="449.2" y2="651" stroke="#222" stroke-width="0.9"/>
<text x="444.7" y="654.5" font-size="9.7" text-anchor="end">0</text>
<line x1="446.4" y1="602.2" x2="449.2" y2="602.2" stroke="#222" stroke-width="0.9"/>
<text x="444.7" y="605.7" font-size="9.7" text-anchor="end">50</text>
<line x1="446.4" y1="553.4" x2="449.2" y2="553.4" stroke="#222" stroke-width="0.9"/>
<text x="444.7" y="556.9" font-size="9.7" text-anchor="end">100</text>
<line x1="457.25" y1="651" x2="457.25" y2="653.4" stroke="#222" stroke-width="0.9"/>
<text x="457.25" y="665.9" font-size="9.7" text-anchor="middle">RI</text>
<line x1="473.9" y1="651" x2="473.9" y2="653.4" stroke="#222" stroke-width="0.9"/>
<text x="473.9" y="665.9" font-size="9.7" text-anchor="middle" letter-spacing="1.4">RR</text>
<line x1="490.75" y1="651" x2="490.75" y2="653.4" stroke="#222" stroke-width="0.9"/>
<text x="490.75" y="665.9" font-size="9.7" text-anchor="middle">RI</text>
<line x1="507.9" y1="651" x2="507.9" y2="653.4" stroke="#222" stroke-width="0.9"/>
<text x="507.9" y="665.9" font-size="9.7" text-anchor="middle" letter-spacing="1.4">RR</text>
<text x="468.3" y="680" font-size="9.7" text-anchor="middle">Day 1</text>
<text x="501.3" y="680" font-size="9.7" text-anchor="middle">Day 6</text>
<rect x="519.2" y="555.2" width="11.1" height="9.7" fill="#a3a3a3" stroke="#2a2a2a" stroke-width="1.05"/>
<text x="535.3" y="563.4" font-size="9.9">Specific</text>
<rect x="519.2" y="570.1" width="11.1" height="9.7" fill="#000" stroke="#000" stroke-width="1.05"/>
<text x="535.3" y="578.3" font-size="9.9">Both</text>
<text x="421.4" y="601" font-size="10" text-anchor="middle" transform="rotate(-90 421.4 601)">% Lever-press neurons</text>
</g>
<g id="panel-f">
<text x="588.2" y="173.8" font-size="13.5" font-weight="bold">f</text>
<text x="649.6" y="172.7" font-size="10" text-anchor="middle">DMS</text>
<text x="649.9" y="185.4" font-size="10" text-anchor="middle">Both neurons</text>
<line x1="623.5" y1="240.7" x2="674.7" y2="240.7" stroke="#333" stroke-width="0.8" stroke-dasharray="1.2 1.2"/>
<line x1="623.5" y1="190.3" x2="623.5" y2="291.4" stroke="#222" stroke-width="0.9"/>
<line x1="623.1" y1="291" x2="673.7" y2="291" stroke="#222" stroke-width="0.9"/>
<line x1="620.7" y1="190.7" x2="623.5" y2="190.7" stroke="#222" stroke-width="0.9"/>
<text x="617.7" y="194.2" font-size="9.7" text-anchor="end">4</text>
<line x1="620.7" y1="215.8" x2="623.5" y2="215.8" stroke="#222" stroke-width="0.9"/>
<text x="617.7" y="219.3" font-size="9.7" text-anchor="end">2</text>
<line x1="620.7" y1="240.7" x2="623.5" y2="240.7" stroke="#222" stroke-width="0.9"/>
<text x="617.7" y="244.2" font-size="9.7" text-anchor="end">0</text>
<line x1="620.7" y1="266" x2="623.5" y2="266" stroke="#222" stroke-width="0.9"/>
<text x="617.7" y="269.5" font-size="9.7" text-anchor="end">−2</text>
<line x1="620.7" y1="291" x2="623.5" y2="291" stroke="#222" stroke-width="0.9"/>
<text x="617.7" y="294.5" font-size="9.7" text-anchor="end">−4</text>
<line x1="635.7" y1="291" x2="635.7" y2="293.6" stroke="#222" stroke-width="0.9"/>
<text x="635.7" y="304.8" font-size="9.7" text-anchor="middle">1</text>
<line x1="661" y1="291" x2="661" y2="293.6" stroke="#222" stroke-width="0.9"/>
<text x="661" y="304.8" font-size="9.7" text-anchor="middle">6</text>
<text x="648.4" y="315" font-size="9.7" text-anchor="middle">Day</text>
<text x="600.2" y="241" font-size="10.1" text-anchor="middle" transform="rotate(-90 600.2 241)">Modulation index</text>
<circle cx="635.7" cy="215.6" r="2.1" fill="none" stroke="#222" stroke-width="0.85"/>
<circle cx="635.7" cy="218.36" r="2.1" fill="none" stroke="#222" stroke-width="0.85"/>
<circle cx="635.7" cy="221.25" r="2.1" fill="none" stroke="#222" stroke-width="0.85"/>
<circle cx="635.7" cy="232.54" r="2.1" fill="none" stroke="#222" stroke-width="0.85"/>
<circle cx="635.7" cy="235.68" r="2.1" fill="none" stroke="#222" stroke-width="0.85"/>
<circle cx="635.7" cy="239.44" r="2.1" fill="none" stroke="#222" stroke-width="0.85"/>
<circle cx="635.7" cy="241.95" r="2.1" fill="none" stroke="#222" stroke-width="0.85"/>
<circle cx="635.7" cy="244.46" r="2.1" fill="none" stroke="#222" stroke-width="0.85"/>
<circle cx="635.7" cy="246.97" r="2.1" fill="none" stroke="#222" stroke-width="0.85"/>
<circle cx="635.7" cy="249.48" r="2.1" fill="none" stroke="#222" stroke-width="0.85"/>
<circle cx="635.7" cy="254.5" r="2.1" fill="none" stroke="#222" stroke-width="0.85"/>
<circle cx="635.7" cy="258.27" r="2.1" fill="none" stroke="#222" stroke-width="0.85"/>
<circle cx="635.7" cy="263.92" r="2.1" fill="none" stroke="#222" stroke-width="0.85"/>
<circle cx="661" cy="226.27" r="2.1" fill="#3c55a6" stroke="#16235f" stroke-width="0.85"/>
<circle cx="661" cy="234.42" r="2.1" fill="#3c55a6" stroke="#16235f" stroke-width="0.85"/>
<circle cx="661" cy="236.94" r="2.1" fill="#3c55a6" stroke="#16235f" stroke-width="0.85"/>
<circle cx="661" cy="239.44" r="2.1" fill="#3c55a6" stroke="#16235f" stroke-width="0.85"/>
<circle cx="661" cy="241.33" r="2.1" fill="#3c55a6" stroke="#16235f" stroke-width="0.85"/>
<circle cx="661" cy="243.21" r="2.1" fill="#3c55a6" stroke="#16235f" stroke-width="0.85"/>
<circle cx="661" cy="244.46" r="2.1" fill="#3c55a6" stroke="#16235f" stroke-width="0.85"/>
<circle cx="661" cy="245.72" r="2.1" fill="#3c55a6" stroke="#16235f" stroke-width="0.85"/>
<circle cx="661" cy="246.97" r="2.1" fill="#3c55a6" stroke="#16235f" stroke-width="0.85"/>
<circle cx="661" cy="248.23" r="2.1" fill="#3c55a6" stroke="#16235f" stroke-width="0.85"/>
<circle cx="661" cy="250.74" r="2.1" fill="#3c55a6" stroke="#16235f" stroke-width="0.85"/>
<circle cx="661" cy="253.25" r="2.1" fill="#3c55a6" stroke="#16235f" stroke-width="0.85"/>
<circle cx="661" cy="262.03" r="2.1" fill="#3c55a6" stroke="#16235f" stroke-width="0.85"/>
<circle cx="661" cy="278.35" r="2.1" fill="#3c55a6" stroke="#16235f" stroke-width="0.85"/>
<line x1="627.9" y1="239.44" x2="643.5" y2="239.44" stroke="#111" stroke-width="0.9"/>
<line x1="631.1" y1="243.21" x2="640.3" y2="243.21" stroke="#111" stroke-width="0.9"/>
<line x1="631.1" y1="235.93" x2="640.3" y2="235.93" stroke="#111" stroke-width="0.9"/>
<line x1="635.7" y1="243.21" x2="635.7" y2="235.93" stroke="#111" stroke-width="0.9"/>
<line x1="652.8" y1="244.46" x2="669.2" y2="244.46" stroke="#111" stroke-width="0.9"/>
<line x1="656.4" y1="246.97" x2="665.6" y2="246.97" stroke="#111" stroke-width="0.9"/>
<line x1="656.4" y1="242.21" x2="665.6" y2="242.21" stroke="#111" stroke-width="0.9"/>
<line x1="661" y1="246.97" x2="661" y2="242.21" stroke="#111" stroke-width="0.9"/>
<text x="630" y="208.9" font-size="8.6"><tspan font-style="italic">n</tspan>=14</text>
<text x="655.7" y="217.6" font-size="8.6"><tspan font-style="italic">n</tspan>=19</text>
</g>
<g id="panel-j">
<text x="588.2" y="350" font-size="13.5" font-weight="bold">j</text>
<text x="651.8" y="357.4" font-size="10" text-anchor="middle">DLS</text>
<text x="651.6" y="369.1" font-size="10" text-anchor="middle">Both neurons</text>
<line x1="627.6" y1="425.4" x2="679.3" y2="425.4" stroke="#333" stroke-width="0.8" stroke-dasharray="1.2 1.2"/>
<line x1="627.6" y1="374.9" x2="627.6" y2="475.3" stroke="#222" stroke-width="0.9"/>
<line x1="627.2" y1="474.9" x2="678.3" y2="474.9" stroke="#222" stroke-width="0.9"/>
<line x1="624.8" y1="375.3" x2="627.6" y2="375.3" stroke="#222" stroke-width="0.9"/>
<text x="621.9" y="378.8" font-size="9.7" text-anchor="end">10</text>
<line x1="624.8" y1="400.2" x2="627.6" y2="400.2" stroke="#222" stroke-width="0.9"/>
<text x="621.9" y="403.7" font-size="9.7" text-anchor="end">5</text>
<line x1="624.8" y1="425.4" x2="627.6" y2="425.4" stroke="#222" stroke-width="0.9"/>
<text x="621.9" y="428.9" font-size="9.7" text-anchor="end">0</text>
<line x1="624.8" y1="450.3" x2="627.6" y2="450.3" stroke="#222" stroke-width="0.9"/>
<text x="621.9" y="453.8" font-size="9.7" text-anchor="end">−5</text>
<line x1="624.8" y1="474.9" x2="627.6" y2="474.9" stroke="#222" stroke-width="0.9"/>
<text x="621.9" y="478.4" font-size="9.7" text-anchor="end">−10</text>
<line x1="640.3" y1="474.9" x2="640.3" y2="477.5" stroke="#222" stroke-width="0.9"/>
<text x="640.3" y="489" font-size="9.7" text-anchor="middle">1</text>
<line x1="665.7" y1="474.9" x2="665.7" y2="477.5" stroke="#222" stroke-width="0.9"/>
<text x="665.7" y="489" font-size="9.7" text-anchor="middle">6</text>
<text x="652" y="501.5" font-size="9.7" text-anchor="middle">Day</text>
<text x="600.2" y="424.7" font-size="10.1" text-anchor="middle" transform="rotate(-90 600.2 424.7)">Modulation index</text>
<circle cx="640.3" cy="413.45" r="2.1" fill="none" stroke="#222" stroke-width="0.85"/>
<circle cx="640.3" cy="418.93" r="2.1" fill="none" stroke="#222" stroke-width="0.85"/>
<circle cx="640.3" cy="420.92" r="2.1" fill="none" stroke="#222" stroke-width="0.85"/>
<circle cx="640.3" cy="423.41" r="2.1" fill="none" stroke="#222" stroke-width="0.85"/>
<circle cx="640.3" cy="424.65" r="2.1" fill="none" stroke="#222" stroke-width="0.85"/>
<circle cx="640.3" cy="425.4" r="2.1" fill="none" stroke="#222" stroke-width="0.85"/>
<circle cx="640.3" cy="426.15" r="2.1" fill="none" stroke="#222" stroke-width="0.85"/>
<circle cx="640.3" cy="427.39" r="2.1" fill="none" stroke="#222" stroke-width="0.85"/>
<circle cx="640.3" cy="436.36" r="2.1" fill="none" stroke="#222" stroke-width="0.85"/>
<circle cx="665.7" cy="391.54" r="2.1" fill="#e7332b" stroke="#7d1511" stroke-width="0.85"/>
<circle cx="665.7" cy="394.03" r="2.1" fill="#e7332b" stroke="#7d1511" stroke-width="0.85"/>
<circle cx="665.7" cy="404.98" r="2.1" fill="#e7332b" stroke="#7d1511" stroke-width="0.85"/>
<circle cx="665.7" cy="407.97" r="2.1" fill="#e7332b" stroke="#7d1511" stroke-width="0.85"/>
<circle cx="665.7" cy="410.46" r="2.1" fill="#e7332b" stroke="#7d1511" stroke-width="0.85"/>
<circle cx="665.7" cy="412.45" r="2.1" fill="#e7332b" stroke="#7d1511" stroke-width="0.85"/>
<circle cx="665.7" cy="442.83" r="2.1" fill="#e7332b" stroke="#7d1511" stroke-width="0.85"/>
<circle cx="665.7" cy="445.32" r="2.1" fill="#e7332b" stroke="#7d1511" stroke-width="0.85"/>
<circle cx="665.7" cy="449.3" r="2.1" fill="#e7332b" stroke="#7d1511" stroke-width="0.85"/>
<circle cx="665.7" cy="451.3" r="2.1" fill="#e7332b" stroke="#7d1511" stroke-width="0.85"/>
<circle cx="665.7" cy="453.29" r="2.1" fill="#e7332b" stroke="#7d1511" stroke-width="0.85"/>
<circle cx="665.7" cy="455.28" r="2.1" fill="#e7332b" stroke="#7d1511" stroke-width="0.85"/>
<line x1="634.3" y1="425.4" x2="646.3" y2="425.4" stroke="#111" stroke-width="0.9"/>
<line x1="637.3" y1="426" x2="643.3" y2="426" stroke="#111" stroke-width="0.9"/>
<line x1="637.3" y1="424.8" x2="643.3" y2="424.8" stroke="#111" stroke-width="0.9"/>
<line x1="640.3" y1="426" x2="640.3" y2="424.8" stroke="#111" stroke-width="0.9"/>
<line x1="657.7" y1="427.39" x2="673.7" y2="427.39" stroke="#111" stroke-width="0.9"/>
<line x1="661.7" y1="434.36" x2="669.7" y2="434.36" stroke="#111" stroke-width="0.9"/>
<line x1="661.7" y1="420.42" x2="669.7" y2="420.42" stroke="#111" stroke-width="0.9"/>
<line x1="665.7" y1="434.36" x2="665.7" y2="420.42" stroke="#111" stroke-width="0.9"/>
<text x="633.4" y="450.3" font-size="8.6"><tspan font-style="italic">n</tspan>=16</text>
<text x="654.6" y="470.6" font-size="8.6"><tspan font-style="italic">n</tspan>=13</text>
</g>
<g id="panel-n">
<text x="588.6" y="529.4" font-size="13.5" font-weight="bold">n</text>
<text x="651.3" y="531.8" font-size="10" text-anchor="middle">OFC</text>
<text x="655" y="543.8" font-size="10" text-anchor="middle">Both neurons</text>
<line x1="628.5" y1="601.3" x2="679.2" y2="601.3" stroke="#999" stroke-width="0.8" stroke-dasharray="2.2 1"/>
<line x1="628.5" y1="551" x2="628.5" y2="651.9" stroke="#222" stroke-width="0.9"/>
<line x1="628.1" y1="651.5" x2="678.2" y2="651.5" stroke="#222" stroke-width="0.9"/>
<line x1="625.7" y1="551.4" x2="628.5" y2="551.4" stroke="#222" stroke-width="0.9"/>
<text x="622.4" y="554.9" font-size="9.7" text-anchor="end">3.0</text>
<line x1="625.7" y1="576.3" x2="628.5" y2="576.3" stroke="#222" stroke-width="0.9"/>
<text x="622.4" y="579.8" font-size="9.7" text-anchor="end">1.5</text>
<line x1="625.7" y1="601.3" x2="628.5" y2="601.3" stroke="#222" stroke-width="0.9"/>
<text x="622.4" y="604.8" font-size="9.7" text-anchor="end">0.0</text>
<line x1="625.7" y1="626.6" x2="628.5" y2="626.6" stroke="#222" stroke-width="0.9"/>
<text x="622.4" y="630.1" font-size="9.7" text-anchor="end">−1.5</text>
<line x1="625.7" y1="651.5" x2="628.5" y2="651.5" stroke="#222" stroke-width="0.9"/>
<text x="622.4" y="655" font-size="9.7" text-anchor="end">−3.0</text>
<line x1="642" y1="651.5" x2="642" y2="654.1" stroke="#222" stroke-width="0.9"/>
<text x="642" y="667" font-size="9.7" text-anchor="middle">1</text>
<line x1="666.5" y1="651.5" x2="666.5" y2="654.1" stroke="#222" stroke-width="0.9"/>
<text x="666.5" y="667" font-size="9.7" text-anchor="middle">6</text>
<text x="653" y="678" font-size="9.7" text-anchor="middle">Day</text>
<text x="600" y="601.3" font-size="10.1" text-anchor="middle" transform="rotate(-90 600 601.3)">Modulation index</text>
<circle cx="642" cy="558.77" r="2.3" fill="none" stroke="#222" stroke-width="0.85"/>
<circle cx="642" cy="572.11" r="2.3" fill="none" stroke="#222" stroke-width="0.85"/>
<circle cx="642" cy="575.45" r="2.3" fill="none" stroke="#222" stroke-width="0.85"/>
<circle cx="642" cy="577.95" r="2.3" fill="none" stroke="#222" stroke-width="0.85"/>
<circle cx="642" cy="581.28" r="2.3" fill="none" stroke="#222" stroke-width="0.85"/>
<circle cx="642" cy="586.29" r="2.3" fill="none" stroke="#222" stroke-width="0.85"/>
<circle cx="642" cy="591.29" r="2.3" fill="none" stroke="#222" stroke-width="0.85"/>
<circle cx="642" cy="594.63" r="2.3" fill="none" stroke="#222" stroke-width="0.85"/>
<circle cx="642" cy="597.13" r="2.3" fill="none" stroke="#222" stroke-width="0.85"/>
<circle cx="642" cy="599.63" r="2.3" fill="none" stroke="#222" stroke-width="0.85"/>
<circle cx="642" cy="602.97" r="2.3" fill="none" stroke="#222" stroke-width="0.85"/>
<circle cx="642" cy="606.3" r="2.3" fill="none" stroke="#222" stroke-width="0.85"/>
<circle cx="642" cy="609.64" r="2.3" fill="none" stroke="#222" stroke-width="0.85"/>
<circle cx="642" cy="612.98" r="2.3" fill="none" stroke="#222" stroke-width="0.85"/>
<circle cx="642" cy="616.31" r="2.3" fill="none" stroke="#222" stroke-width="0.85"/>
<circle cx="666.5" cy="592.13" r="2.3" fill="#000" stroke="#000" stroke-width="0.85"/>
<circle cx="666.5" cy="596.3" r="2.3" fill="#000" stroke="#000" stroke-width="0.85"/>
<circle cx="666.5" cy="598.8" r="2.3" fill="#000" stroke="#000" stroke-width="0.85"/>
<circle cx="666.5" cy="601.3" r="2.3" fill="#000" stroke="#000" stroke-width="0.85"/>
<circle cx="666.5" cy="602.97" r="2.3" fill="#000" stroke="#000" stroke-width="0.85"/>
<circle cx="666.5" cy="604.64" r="2.3" fill="#000" stroke="#000" stroke-width="0.85"/>
<circle cx="666.5" cy="606.3" r="2.3" fill="#000" stroke="#000" stroke-width="0.85"/>
<circle cx="666.5" cy="607.97" r="2.3" fill="#000" stroke="#000" stroke-width="0.85"/>
<circle cx="666.5" cy="609.64" r="2.3" fill="#000" stroke="#000" stroke-width="0.85"/>
<circle cx="666.5" cy="611.31" r="2.3" fill="#000" stroke="#000" stroke-width="0.85"/>
<circle cx="666.5" cy="612.98" r="2.3" fill="#000" stroke="#000" stroke-width="0.85"/>
<circle cx="666.5" cy="614.64" r="2.3" fill="#000" stroke="#000" stroke-width="0.85"/>
<circle cx="666.5" cy="619.65" r="2.3" fill="#000" stroke="#000" stroke-width="0.85"/>
<circle cx="666.5" cy="622.15" r="2.3" fill="#000" stroke="#000" stroke-width="0.85"/>
<circle cx="666.5" cy="622.98" r="2.3" fill="#000" stroke="#000" stroke-width="0.85"/>
<line x1="633.7" y1="592.46" x2="650.3" y2="592.46" stroke="#111" stroke-width="0.9"/>
<line x1="637" y1="596.3" x2="647" y2="596.3" stroke="#111" stroke-width="0.9"/>
<line x1="637" y1="588.29" x2="647" y2="588.29" stroke="#111" stroke-width="0.9"/>
<line x1="642" y1="596.3" x2="642" y2="588.29" stroke="#111" stroke-width="0.9"/>
<line x1="658" y1="607.97" x2="675" y2="607.97" stroke="#999" stroke-width="0.9"/>
<line x1="661.5" y1="609.64" x2="671.5" y2="609.64" stroke="#999" stroke-width="0.9"/>
<line x1="661.5" y1="606.3" x2="671.5" y2="606.3" stroke="#999" stroke-width="0.9"/>
<line x1="666.5" y1="609.64" x2="666.5" y2="606.3" stroke="#999" stroke-width="0.9"/>
<text x="635.4" y="629" font-size="8.6"><tspan font-style="italic">n</tspan>=20</text>
<text x="658.4" y="638.3" font-size="8.6"><tspan font-style="italic">n</tspan>=18</text>
<text x="666.5" y="587.2" font-size="10" text-anchor="middle">*</text>
</g>
</svg></body></html>
